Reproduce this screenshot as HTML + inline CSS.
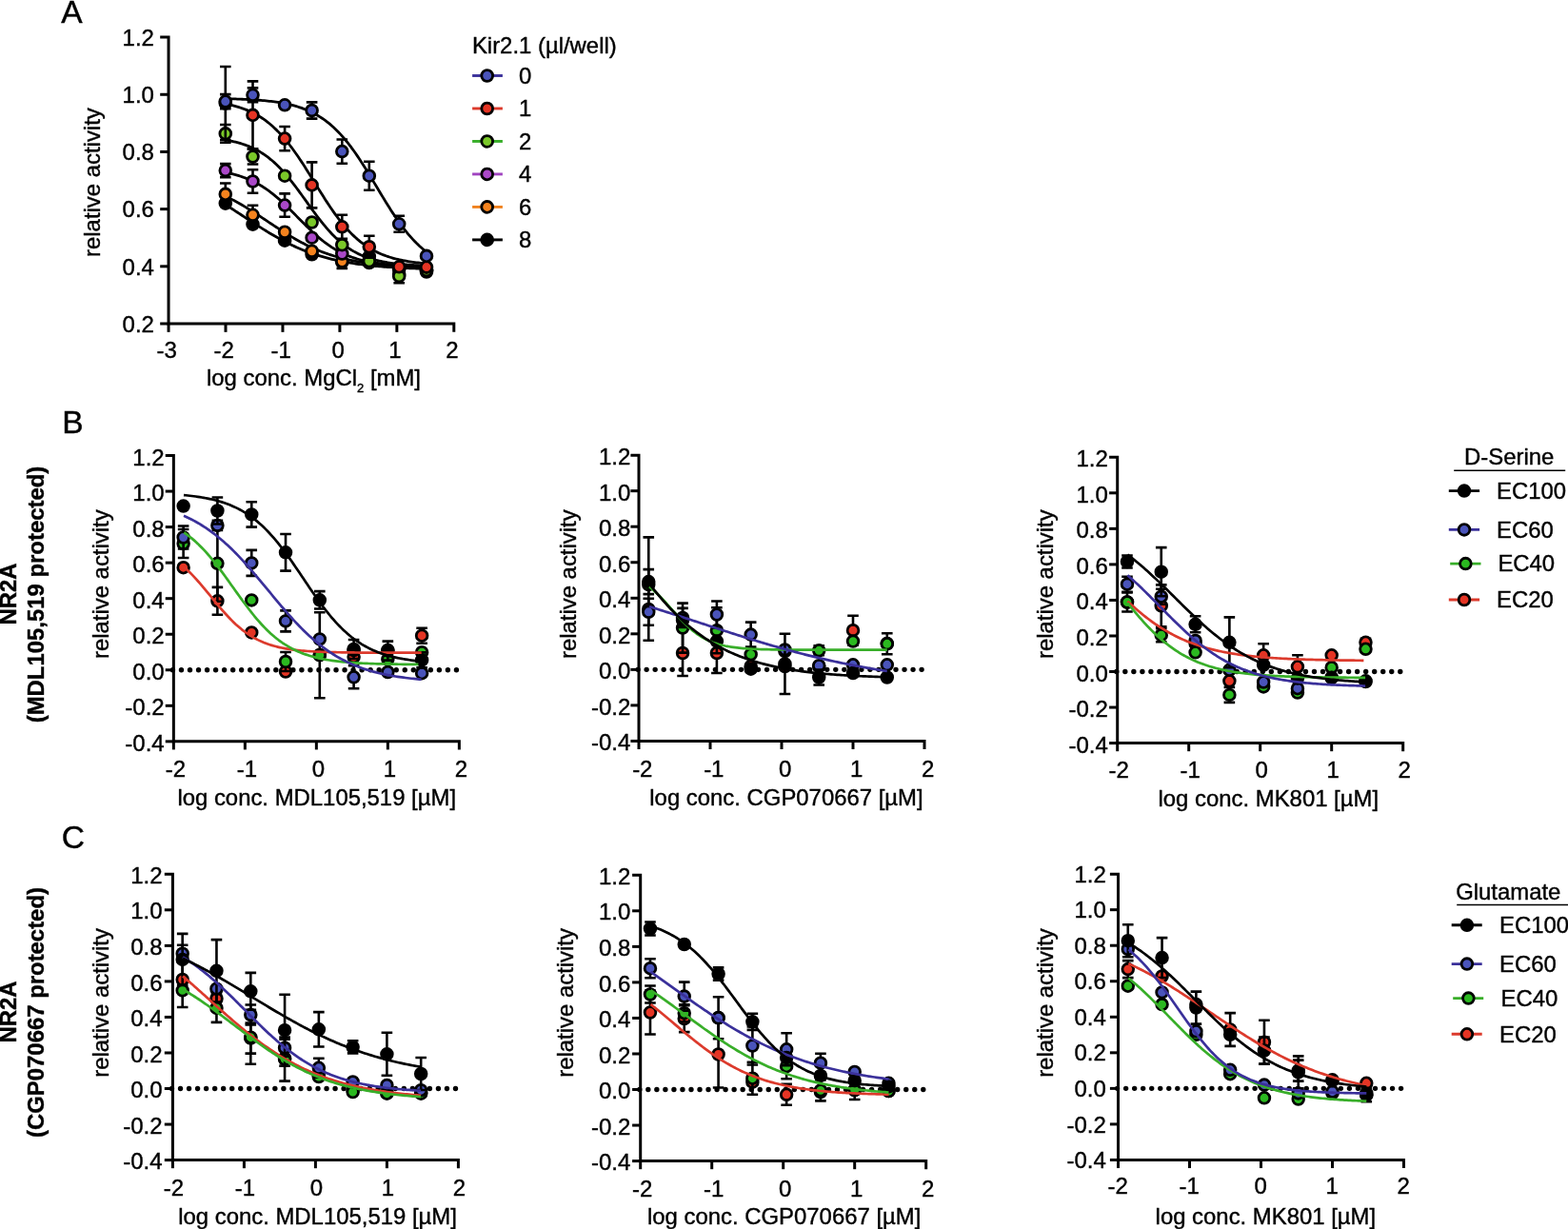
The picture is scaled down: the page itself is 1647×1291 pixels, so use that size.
<!DOCTYPE html>
<html><head><meta charset="utf-8"><title>Figure</title>
<style>
html,body{margin:0;padding:0;background:#fff;}
svg{display:block;}
text{font-family:"Liberation Sans", Arial, Helvetica, sans-serif;fill:#000;stroke:#000;stroke-width:0.4px;}
</style></head>
<body>
<svg width="1647" height="1291" viewBox="0 0 1647 1291">
<rect width="1647" height="1291" fill="#fff"/>
<text x="64.2" y="24" font-size="33.5" text-anchor="start">A</text>
<path d="M168.2,39.1 H177.05 V340 H476.8 V348.85" fill="none" stroke="#000" stroke-width="3.0" stroke-linejoin="miter"/>
<line x1="168.2" y1="340" x2="177.05" y2="340" stroke="#000" stroke-width="3.0" stroke-linecap="butt"/>
<text x="161.95" y="348.7" font-size="24.0" text-anchor="end">0.2</text>
<line x1="168.2" y1="279.82" x2="177.05" y2="279.82" stroke="#000" stroke-width="3.0" stroke-linecap="butt"/>
<text x="161.95" y="288.52" font-size="24.0" text-anchor="end">0.4</text>
<line x1="168.2" y1="219.64" x2="177.05" y2="219.64" stroke="#000" stroke-width="3.0" stroke-linecap="butt"/>
<text x="161.95" y="228.34" font-size="24.0" text-anchor="end">0.6</text>
<line x1="168.2" y1="159.46" x2="177.05" y2="159.46" stroke="#000" stroke-width="3.0" stroke-linecap="butt"/>
<text x="161.95" y="168.16" font-size="24.0" text-anchor="end">0.8</text>
<line x1="168.2" y1="99.28" x2="177.05" y2="99.28" stroke="#000" stroke-width="3.0" stroke-linecap="butt"/>
<text x="161.95" y="107.98" font-size="24.0" text-anchor="end">1.0</text>
<text x="161.95" y="47.8" font-size="24.0" text-anchor="end">1.2</text>
<line x1="177.05" y1="340" x2="177.05" y2="348.85" stroke="#000" stroke-width="3.0" stroke-linecap="butt"/>
<text x="175.25" y="376" font-size="24.0" text-anchor="middle">-3</text>
<line x1="237" y1="340" x2="237" y2="348.85" stroke="#000" stroke-width="3.0" stroke-linecap="butt"/>
<text x="235.2" y="376" font-size="24.0" text-anchor="middle">-2</text>
<line x1="296.95" y1="340" x2="296.95" y2="348.85" stroke="#000" stroke-width="3.0" stroke-linecap="butt"/>
<text x="295.15" y="376" font-size="24.0" text-anchor="middle">-1</text>
<line x1="356.9" y1="340" x2="356.9" y2="348.85" stroke="#000" stroke-width="3.0" stroke-linecap="butt"/>
<text x="355.1" y="376" font-size="24.0" text-anchor="middle">0</text>
<line x1="416.85" y1="340" x2="416.85" y2="348.85" stroke="#000" stroke-width="3.0" stroke-linecap="butt"/>
<text x="415.05" y="376" font-size="24.0" text-anchor="middle">1</text>
<text x="475" y="376" font-size="24.0" text-anchor="middle">2</text>
<text x="105.1" y="191.6" font-size="23.9" text-anchor="middle" transform="rotate(-90 105.1 191.6)">relative activity</text>
<text x="217" y="404.5" font-size="23.9" text-anchor="start">log conc. MgCl<tspan font-size="13" dy="7.5">2</tspan><tspan dy="-7.5"> [mM]</tspan></text>
<polyline points="236.80,215.01 238.57,216.12 240.35,217.24 242.12,218.37 243.90,219.51 245.67,220.65 247.45,221.81 249.22,222.96 251.00,224.13 252.77,225.29 254.55,226.46 256.32,227.63 258.10,228.80 259.87,229.97 261.65,231.14 263.42,232.31 265.20,233.47 266.97,234.63 268.75,235.78 270.52,236.93 272.30,238.06 274.07,239.19 275.85,240.31 277.62,241.42 279.39,242.52 281.17,243.61 282.94,244.68 284.72,245.74 286.49,246.79 288.27,247.82 290.04,248.83 291.82,249.83 293.59,250.82 295.37,251.78 297.14,252.73 298.92,253.66 300.69,254.58 302.47,255.47 304.24,256.35 306.02,257.21 307.79,258.05 309.57,258.87 311.34,259.67 313.12,260.45 314.89,261.21 316.67,261.96 318.44,262.68 320.22,263.39 321.99,264.08 323.76,264.75 325.54,265.40 327.31,266.03 329.09,266.64 330.86,267.24 332.64,267.82 334.41,268.38 336.19,268.92 337.96,269.45 339.74,269.96 341.51,270.45 343.29,270.93 345.06,271.40 346.84,271.85 348.61,272.28 350.39,272.70 352.16,273.11 353.94,273.50 355.71,273.88 357.49,274.24 359.26,274.59 361.04,274.93 362.81,275.26 364.58,275.58 366.36,275.88 368.13,276.18 369.91,276.46 371.68,276.74 373.46,277.00 375.23,277.25 377.01,277.50 378.78,277.73 380.56,277.96 382.33,278.18 384.11,278.39 385.88,278.59 387.66,278.78 389.43,278.97 391.21,279.15 392.98,279.32 394.76,279.49 396.53,279.65 398.31,279.80 400.08,279.95 401.86,280.09 403.63,280.23 405.41,280.36 407.18,280.49 408.95,280.61 410.73,280.72 412.50,280.84 414.28,280.94 416.05,281.05 417.83,281.15 419.60,281.24 421.38,281.33 423.15,281.42 424.93,281.50 426.70,281.58 428.48,281.66 430.25,281.74 432.03,281.81 433.80,281.88 435.58,281.94 437.35,282.01 439.13,282.07 440.90,282.12 442.68,282.18 444.45,282.23 446.23,282.28 448.00,282.33" fill="none" stroke="#000" stroke-width="2.8" stroke-linejoin="round"/>
<polyline points="236.80,206.08 238.57,206.93 240.35,207.81 242.12,208.70 243.90,209.62 245.67,210.56 247.45,211.51 249.22,212.49 251.00,213.49 252.77,214.50 254.55,215.54 256.32,216.59 258.10,217.66 259.87,218.74 261.65,219.84 263.42,220.96 265.20,222.08 266.97,223.22 268.75,224.37 270.52,225.53 272.30,226.70 274.07,227.87 275.85,229.05 277.62,230.23 279.39,231.41 281.17,232.60 282.94,233.79 284.72,234.97 286.49,236.16 288.27,237.33 290.04,238.51 291.82,239.67 293.59,240.83 295.37,241.98 297.14,243.12 298.92,244.24 300.69,245.36 302.47,246.46 304.24,247.54 306.02,248.61 307.79,249.66 309.57,250.70 311.34,251.71 313.12,252.71 314.89,253.69 316.67,254.64 318.44,255.58 320.22,256.50 321.99,257.39 323.76,258.26 325.54,259.11 327.31,259.94 329.09,260.75 330.86,261.53 332.64,262.30 334.41,263.04 336.19,263.76 337.96,264.45 339.74,265.13 341.51,265.78 343.29,266.41 345.06,267.03 346.84,267.62 348.61,268.19 350.39,268.74 352.16,269.27 353.94,269.79 355.71,270.28 357.49,270.76 359.26,271.22 361.04,271.66 362.81,272.09 364.58,272.50 366.36,272.89 368.13,273.27 369.91,273.63 371.68,273.98 373.46,274.31 375.23,274.64 377.01,274.94 378.78,275.24 380.56,275.52 382.33,275.80 384.11,276.06 385.88,276.31 387.66,276.54 389.43,276.77 391.21,276.99 392.98,277.20 394.76,277.40 396.53,277.59 398.31,277.78 400.08,277.95 401.86,278.12 403.63,278.28 405.41,278.44 407.18,278.58 408.95,278.72 410.73,278.86 412.50,278.98 414.28,279.11 416.05,279.22 417.83,279.33 419.60,279.44 421.38,279.54 423.15,279.64 424.93,279.73 426.70,279.82 428.48,279.91 430.25,279.99 432.03,280.06 433.80,280.14 435.58,280.21 437.35,280.27 439.13,280.34 440.90,280.40 442.68,280.46 444.45,280.51 446.23,280.56 448.00,280.61" fill="none" stroke="#000" stroke-width="2.8" stroke-linejoin="round"/>
<polyline points="236.80,181.19 238.57,181.54 240.35,181.91 242.12,182.30 243.90,182.72 245.67,183.16 247.45,183.63 249.22,184.14 251.00,184.67 252.77,185.23 254.55,185.82 256.32,186.45 258.10,187.12 259.87,187.82 261.65,188.57 263.42,189.35 265.20,190.18 266.97,191.04 268.75,191.95 270.52,192.91 272.30,193.91 274.07,194.96 275.85,196.06 277.62,197.21 279.39,198.40 281.17,199.64 282.94,200.93 284.72,202.27 286.49,203.66 288.27,205.09 290.04,206.56 291.82,208.08 293.59,209.64 295.37,211.24 297.14,212.88 298.92,214.55 300.69,216.25 302.47,217.97 304.24,219.73 306.02,221.50 307.79,223.28 309.57,225.08 311.34,226.89 313.12,228.70 314.89,230.50 316.67,232.31 318.44,234.10 320.22,235.88 321.99,237.64 323.76,239.37 325.54,241.09 327.31,242.77 329.09,244.42 330.86,246.03 332.64,247.61 334.41,249.15 336.19,250.64 337.96,252.09 339.74,253.49 341.51,254.85 343.29,256.16 345.06,257.42 346.84,258.64 348.61,259.80 350.39,260.92 352.16,261.99 353.94,263.01 355.71,263.99 357.49,264.92 359.26,265.80 361.04,266.65 362.81,267.45 364.58,268.21 366.36,268.93 368.13,269.61 369.91,270.25 371.68,270.86 373.46,271.44 375.23,271.98 377.01,272.50 378.78,272.98 380.56,273.43 382.33,273.86 384.11,274.27 385.88,274.65 387.66,275.00 389.43,275.34 391.21,275.65 392.98,275.95 394.76,276.22 396.53,276.48 398.31,276.73 400.08,276.96 401.86,277.17 403.63,277.37 405.41,277.56 407.18,277.73 408.95,277.90 410.73,278.05 412.50,278.19 414.28,278.33 416.05,278.45 417.83,278.57 419.60,278.68 421.38,278.79 423.15,278.88 424.93,278.97 426.70,279.06 428.48,279.13 430.25,279.21 432.03,279.28 433.80,279.34 435.58,279.40 437.35,279.46 439.13,279.51 440.90,279.56 442.68,279.60 444.45,279.64 446.23,279.68 448.00,279.72" fill="none" stroke="#000" stroke-width="2.8" stroke-linejoin="round"/>
<polyline points="236.80,147.06 238.57,147.36 240.35,147.69 242.12,148.04 243.90,148.41 245.67,148.81 247.45,149.23 249.22,149.68 251.00,150.17 252.77,150.68 254.55,151.23 256.32,151.82 258.10,152.44 259.87,153.11 261.65,153.82 263.42,154.57 265.20,155.36 266.97,156.21 268.75,157.11 270.52,158.06 272.30,159.06 274.07,160.12 275.85,161.24 277.62,162.42 279.39,163.67 281.17,164.98 282.94,166.35 284.72,167.79 286.49,169.30 288.27,170.88 290.04,172.53 291.82,174.24 293.59,176.02 295.37,177.88 297.14,179.79 298.92,181.78 300.69,183.82 302.47,185.93 304.24,188.10 306.02,190.31 307.79,192.58 309.57,194.89 311.34,197.25 313.12,199.64 314.89,202.06 316.67,204.50 318.44,206.96 320.22,209.43 321.99,211.91 323.76,214.38 325.54,216.85 327.31,219.31 329.09,221.74 330.86,224.15 332.64,226.52 334.41,228.86 336.19,231.15 337.96,233.40 339.74,235.59 341.51,237.73 343.29,239.81 345.06,241.83 346.84,243.78 348.61,245.67 350.39,247.49 352.16,249.25 353.94,250.93 355.71,252.55 357.49,254.09 359.26,255.57 361.04,256.98 362.81,258.33 364.58,259.61 366.36,260.82 368.13,261.98 369.91,263.07 371.68,264.11 373.46,265.09 375.23,266.01 377.01,266.89 378.78,267.71 380.56,268.49 382.33,269.22 384.11,269.90 385.88,270.55 387.66,271.16 389.43,271.73 391.21,272.26 392.98,272.76 394.76,273.23 396.53,273.67 398.31,274.09 400.08,274.47 401.86,274.83 403.63,275.17 405.41,275.48 407.18,275.78 408.95,276.05 410.73,276.31 412.50,276.55 414.28,276.78 416.05,276.98 417.83,277.18 419.60,277.36 421.38,277.53 423.15,277.69 424.93,277.84 426.70,277.98 428.48,278.10 430.25,278.22 432.03,278.33 433.80,278.44 435.58,278.53 437.35,278.62 439.13,278.71 440.90,278.79 442.68,278.86 444.45,278.93 446.23,278.99 448.00,279.05" fill="none" stroke="#000" stroke-width="2.8" stroke-linejoin="round"/>
<polyline points="236.80,109.12 238.57,109.48 240.35,109.85 242.12,110.25 243.90,110.67 245.67,111.12 247.45,111.60 249.22,112.11 251.00,112.65 252.77,113.22 254.55,113.82 256.32,114.47 258.10,115.15 259.87,115.87 261.65,116.63 263.42,117.43 265.20,118.28 266.97,119.18 268.75,120.13 270.52,121.13 272.30,122.19 274.07,123.30 275.85,124.46 277.62,125.69 279.39,126.98 281.17,128.34 282.94,129.76 284.72,131.24 286.49,132.80 288.27,134.42 290.04,136.12 291.82,137.88 293.59,139.72 295.37,141.63 297.14,143.62 298.92,145.67 300.69,147.80 302.47,150.00 304.24,152.26 306.02,154.60 307.79,157.00 309.57,159.46 311.34,161.98 313.12,164.56 314.89,167.19 316.67,169.86 318.44,172.59 320.22,175.35 321.99,178.14 323.76,180.96 325.54,183.80 327.31,186.66 329.09,189.53 330.86,192.40 332.64,195.27 334.41,198.14 336.19,200.98 337.96,203.81 339.74,206.61 341.51,209.38 343.29,212.12 345.06,214.81 346.84,217.45 348.61,220.05 350.39,222.59 352.16,225.07 353.94,227.48 355.71,229.84 357.49,232.12 359.26,234.34 361.04,236.49 362.81,238.57 364.58,240.58 366.36,242.51 368.13,244.37 369.91,246.16 371.68,247.87 373.46,249.52 375.23,251.10 377.01,252.60 378.78,254.04 380.56,255.42 382.33,256.72 384.11,257.97 385.88,259.16 387.66,260.29 389.43,261.36 391.21,262.37 392.98,263.34 394.76,264.25 396.53,265.12 398.31,265.94 400.08,266.71 401.86,267.44 403.63,268.13 405.41,268.79 407.18,269.40 408.95,269.98 410.73,270.53 412.50,271.05 414.28,271.54 416.05,271.99 417.83,272.43 419.60,272.83 421.38,273.21 423.15,273.57 424.93,273.91 426.70,274.23 428.48,274.53 430.25,274.81 432.03,275.07 433.80,275.32 435.58,275.55 437.35,275.77 439.13,275.98 440.90,276.17 442.68,276.35 444.45,276.52 446.23,276.68 448.00,276.83" fill="none" stroke="#000" stroke-width="2.8" stroke-linejoin="round"/>
<polyline points="236.80,103.68 238.57,103.72 240.35,103.77 242.12,103.81 243.90,103.86 245.67,103.91 247.45,103.97 249.22,104.03 251.00,104.09 252.77,104.16 254.55,104.23 256.32,104.31 258.10,104.39 259.87,104.48 261.65,104.57 263.42,104.67 265.20,104.77 266.97,104.89 268.75,105.01 270.52,105.13 272.30,105.27 274.07,105.41 275.85,105.56 277.62,105.72 279.39,105.90 281.17,106.08 282.94,106.28 284.72,106.48 286.49,106.70 288.27,106.94 290.04,107.19 291.82,107.45 293.59,107.74 295.37,108.04 297.14,108.35 298.92,108.69 300.69,109.05 302.47,109.43 304.24,109.83 306.02,110.26 307.79,110.72 309.57,111.20 311.34,111.71 313.12,112.25 314.89,112.82 316.67,113.43 318.44,114.07 320.22,114.75 321.99,115.46 323.76,116.22 325.54,117.02 327.31,117.87 329.09,118.76 330.86,119.70 332.64,120.69 334.41,121.73 336.19,122.83 337.96,123.98 339.74,125.20 341.51,126.47 343.29,127.80 345.06,129.20 346.84,130.66 348.61,132.20 350.39,133.80 352.16,135.46 353.94,137.20 355.71,139.02 357.49,140.90 359.26,142.86 361.04,144.89 362.81,146.99 364.58,149.16 366.36,151.40 368.13,153.72 369.91,156.10 371.68,158.55 373.46,161.06 375.23,163.63 377.01,166.26 378.78,168.95 380.56,171.68 382.33,174.47 384.11,177.29 385.88,180.15 387.66,183.04 389.43,185.96 391.21,188.90 392.98,191.85 394.76,194.81 396.53,197.78 398.31,200.74 400.08,203.69 401.86,206.63 403.63,209.54 405.41,212.43 407.18,215.29 408.95,218.11 410.73,220.89 412.50,223.62 414.28,226.30 416.05,228.92 417.83,231.49 419.60,234.00 421.38,236.44 423.15,238.82 424.93,241.12 426.70,243.36 428.48,245.53 430.25,247.63 432.03,249.65 433.80,251.60 435.58,253.48 437.35,255.28 439.13,257.01 440.90,258.68 442.68,260.27 444.45,261.80 446.23,263.26 448.00,264.65" fill="none" stroke="#000" stroke-width="2.8" stroke-linejoin="round"/>
<path d="M387.8,261.5 V277.5 M382,261.5 H393.6 M382,277.5 H393.6" stroke="#000" stroke-width="2.6" fill="none"/>
<circle cx="236.8" cy="213.6" r="5.9" fill="#000000" stroke="#000" stroke-width="2.8"/>
<circle cx="265.5" cy="235.6" r="5.9" fill="#000000" stroke="#000" stroke-width="2.8"/>
<circle cx="299.1" cy="252.7" r="5.9" fill="#000000" stroke="#000" stroke-width="2.8"/>
<circle cx="327.6" cy="267.3" r="5.9" fill="#000000" stroke="#000" stroke-width="2.8"/>
<circle cx="359.3" cy="275.4" r="5.9" fill="#000000" stroke="#000" stroke-width="2.8"/>
<circle cx="387.8" cy="269.5" r="5.9" fill="#000000" stroke="#000" stroke-width="2.8"/>
<circle cx="419.2" cy="288" r="5.9" fill="#000000" stroke="#000" stroke-width="2.8"/>
<circle cx="448" cy="285.5" r="5.9" fill="#000000" stroke="#000" stroke-width="2.8"/>
<path d="M236.8,192.5 V215.3 M231,192.5 H242.6 M231,215.3 H242.6" stroke="#000" stroke-width="2.6" fill="none"/>
<path d="M265.5,215.8 V235.8 M259.7,215.8 H271.3 M259.7,235.8 H271.3" stroke="#000" stroke-width="2.6" fill="none"/>
<path d="M359.3,267.3 V281.9 M353.5,267.3 H365.1 M353.5,281.9 H365.1" stroke="#000" stroke-width="2.6" fill="none"/>
<circle cx="236.8" cy="203.9" r="5.9" fill="#f5831e" stroke="#000" stroke-width="2.8"/>
<circle cx="265.5" cy="225.8" r="5.9" fill="#f5831e" stroke="#000" stroke-width="2.8"/>
<circle cx="299.1" cy="243.7" r="5.9" fill="#f5831e" stroke="#000" stroke-width="2.8"/>
<circle cx="327.6" cy="263.7" r="5.9" fill="#f5831e" stroke="#000" stroke-width="2.8"/>
<circle cx="359.3" cy="274.6" r="5.9" fill="#f5831e" stroke="#000" stroke-width="2.8"/>
<circle cx="387.8" cy="276" r="5.9" fill="#f5831e" stroke="#000" stroke-width="2.8"/>
<circle cx="419.2" cy="283" r="5.9" fill="#f5831e" stroke="#000" stroke-width="2.8"/>
<circle cx="448" cy="284" r="5.9" fill="#f5831e" stroke="#000" stroke-width="2.8"/>
<path d="M236.8,172.1 V186.1 M231,172.1 H242.6 M231,186.1 H242.6" stroke="#000" stroke-width="2.6" fill="none"/>
<path d="M265.5,178.3 V202.7 M259.7,178.3 H271.3 M259.7,202.7 H271.3" stroke="#000" stroke-width="2.6" fill="none"/>
<path d="M299.1,203.4 V227.8 M293.3,203.4 H304.9 M293.3,227.8 H304.9" stroke="#000" stroke-width="2.6" fill="none"/>
<circle cx="236.8" cy="179.1" r="5.9" fill="#aa48c8" stroke="#000" stroke-width="2.8"/>
<circle cx="265.5" cy="190.5" r="5.9" fill="#aa48c8" stroke="#000" stroke-width="2.8"/>
<circle cx="299.1" cy="215.6" r="5.9" fill="#aa48c8" stroke="#000" stroke-width="2.8"/>
<circle cx="327.6" cy="249.7" r="5.9" fill="#aa48c8" stroke="#000" stroke-width="2.8"/>
<circle cx="359.3" cy="266.5" r="5.9" fill="#aa48c8" stroke="#000" stroke-width="2.8"/>
<circle cx="387.8" cy="274.5" r="5.9" fill="#aa48c8" stroke="#000" stroke-width="2.8"/>
<circle cx="419.2" cy="281.5" r="5.9" fill="#aa48c8" stroke="#000" stroke-width="2.8"/>
<circle cx="448" cy="283" r="5.9" fill="#aa48c8" stroke="#000" stroke-width="2.8"/>
<path d="M236.8,131 V149.8 M231,131 H242.6 M231,149.8 H242.6" stroke="#000" stroke-width="2.6" fill="none"/>
<path d="M265.5,156.5 V172.5 M259.7,156.5 H271.3 M259.7,172.5 H271.3" stroke="#000" stroke-width="2.6" fill="none"/>
<path d="M419.2,282.7 V297.3 M413.4,282.7 H425 M413.4,297.3 H425" stroke="#000" stroke-width="2.6" fill="none"/>
<circle cx="236.8" cy="140.4" r="5.9" fill="#7ac829" stroke="#000" stroke-width="2.8"/>
<circle cx="265.5" cy="164.5" r="5.9" fill="#7ac829" stroke="#000" stroke-width="2.8"/>
<circle cx="299.1" cy="184.7" r="5.9" fill="#7ac829" stroke="#000" stroke-width="2.8"/>
<circle cx="327.6" cy="233.5" r="5.9" fill="#7ac829" stroke="#000" stroke-width="2.8"/>
<circle cx="359.3" cy="257.2" r="5.9" fill="#7ac829" stroke="#000" stroke-width="2.8"/>
<circle cx="387.8" cy="274.3" r="5.9" fill="#7ac829" stroke="#000" stroke-width="2.8"/>
<circle cx="419.2" cy="290" r="5.9" fill="#7ac829" stroke="#000" stroke-width="2.8"/>
<circle cx="448" cy="284" r="5.9" fill="#7ac829" stroke="#000" stroke-width="2.8"/>
<path d="M236.8,70 V147 M231,70 H242.6 M231,147 H242.6" stroke="#000" stroke-width="2.6" fill="none"/>
<path d="M265.5,85.4 V156.4 M259.7,85.4 H271.3 M259.7,156.4 H271.3" stroke="#000" stroke-width="2.6" fill="none"/>
<path d="M299.1,133 V158.2 M293.3,133 H304.9 M293.3,158.2 H304.9" stroke="#000" stroke-width="2.6" fill="none"/>
<path d="M327.6,170.4 V218.4 M321.8,170.4 H333.4 M321.8,218.4 H333.4" stroke="#000" stroke-width="2.6" fill="none"/>
<path d="M359.3,225.8 V250.8 M353.5,225.8 H365.1 M353.5,250.8 H365.1" stroke="#000" stroke-width="2.6" fill="none"/>
<path d="M387.8,247.8 V270.6 M382,247.8 H393.6 M382,270.6 H393.6" stroke="#000" stroke-width="2.6" fill="none"/>
<circle cx="236.8" cy="108.5" r="5.9" fill="#e53424" stroke="#000" stroke-width="2.8"/>
<circle cx="265.5" cy="120.9" r="5.9" fill="#e53424" stroke="#000" stroke-width="2.8"/>
<circle cx="299.1" cy="145.6" r="5.9" fill="#e53424" stroke="#000" stroke-width="2.8"/>
<circle cx="327.6" cy="194.4" r="5.9" fill="#e53424" stroke="#000" stroke-width="2.8"/>
<circle cx="359.3" cy="238.3" r="5.9" fill="#e53424" stroke="#000" stroke-width="2.8"/>
<circle cx="387.8" cy="259.2" r="5.9" fill="#e53424" stroke="#000" stroke-width="2.8"/>
<circle cx="419.2" cy="280.3" r="5.9" fill="#e53424" stroke="#000" stroke-width="2.8"/>
<circle cx="448" cy="280.6" r="5.9" fill="#e53424" stroke="#000" stroke-width="2.8"/>
<path d="M236.8,99.1 V114.1 M231,99.1 H242.6 M231,114.1 H242.6" stroke="#000" stroke-width="2.6" fill="none"/>
<path d="M265.5,92.4 V107.2 M259.7,92.4 H271.3 M259.7,107.2 H271.3" stroke="#000" stroke-width="2.6" fill="none"/>
<path d="M327.6,107.4 V124.6 M321.8,107.4 H333.4 M321.8,124.6 H333.4" stroke="#000" stroke-width="2.6" fill="none"/>
<path d="M359.3,146.5 V171.7 M353.5,146.5 H365.1 M353.5,171.7 H365.1" stroke="#000" stroke-width="2.6" fill="none"/>
<path d="M387.8,169.7 V199.7 M382,169.7 H393.6 M382,199.7 H393.6" stroke="#000" stroke-width="2.6" fill="none"/>
<path d="M419.2,226.8 V243.8 M413.4,226.8 H425 M413.4,243.8 H425" stroke="#000" stroke-width="2.6" fill="none"/>
<circle cx="236.8" cy="106.6" r="5.9" fill="#4a54ba" stroke="#000" stroke-width="2.8"/>
<circle cx="265.5" cy="99.8" r="5.9" fill="#4a54ba" stroke="#000" stroke-width="2.8"/>
<circle cx="299.1" cy="110.3" r="5.9" fill="#4a54ba" stroke="#000" stroke-width="2.8"/>
<circle cx="327.6" cy="116" r="5.9" fill="#4a54ba" stroke="#000" stroke-width="2.8"/>
<circle cx="359.3" cy="159.1" r="5.9" fill="#4a54ba" stroke="#000" stroke-width="2.8"/>
<circle cx="387.8" cy="184.7" r="5.9" fill="#4a54ba" stroke="#000" stroke-width="2.8"/>
<circle cx="419.2" cy="235.3" r="5.9" fill="#4a54ba" stroke="#000" stroke-width="2.8"/>
<circle cx="448" cy="268.9" r="5.9" fill="#4a54ba" stroke="#000" stroke-width="2.8"/>
<text x="495.9" y="55.8" font-size="23.9" text-anchor="start">Kir2.1 (µl/well)</text>
<line x1="496.1" y1="79.5" x2="527.9" y2="79.5" stroke="#3a309a" stroke-width="2.9" stroke-linecap="butt"/>
<circle cx="511.7" cy="79.5" r="5.9" fill="#4a54ba" stroke="#000" stroke-width="2.8"/>
<text x="545" y="87.8" font-size="23.9" text-anchor="start">0</text>
<line x1="496.1" y1="113.98" x2="527.9" y2="113.98" stroke="#dc3a2c" stroke-width="2.9" stroke-linecap="butt"/>
<circle cx="511.7" cy="113.98" r="5.9" fill="#e53424" stroke="#000" stroke-width="2.8"/>
<text x="545" y="122.28" font-size="23.9" text-anchor="start">1</text>
<line x1="496.1" y1="148.46" x2="527.9" y2="148.46" stroke="#38ae29" stroke-width="2.9" stroke-linecap="butt"/>
<circle cx="511.7" cy="148.46" r="5.9" fill="#7ac829" stroke="#000" stroke-width="2.8"/>
<text x="545" y="156.76" font-size="23.9" text-anchor="start">2</text>
<line x1="496.1" y1="182.94" x2="527.9" y2="182.94" stroke="#a043c0" stroke-width="2.9" stroke-linecap="butt"/>
<circle cx="511.7" cy="182.94" r="5.9" fill="#aa48c8" stroke="#000" stroke-width="2.8"/>
<text x="545" y="191.24" font-size="23.9" text-anchor="start">4</text>
<line x1="496.1" y1="217.42" x2="527.9" y2="217.42" stroke="#f0821e" stroke-width="2.9" stroke-linecap="butt"/>
<circle cx="511.7" cy="217.42" r="5.9" fill="#f5831e" stroke="#000" stroke-width="2.8"/>
<text x="545" y="225.72" font-size="23.9" text-anchor="start">6</text>
<line x1="496.1" y1="251.9" x2="527.9" y2="251.9" stroke="#000000" stroke-width="2.9" stroke-linecap="butt"/>
<circle cx="511.7" cy="251.9" r="5.9" fill="#000000" stroke="#000" stroke-width="2.8"/>
<text x="545" y="260.2" font-size="23.9" text-anchor="start">8</text>
<text x="65.3" y="454.5" font-size="33.5" text-anchor="start">B</text>
<text x="17" y="624" font-size="23.9" text-anchor="middle" font-weight="bold" transform="rotate(-90 17 624)">NR2A</text>
<text x="46" y="624.5" font-size="23.9" text-anchor="middle" font-weight="bold" transform="rotate(-90 46 624.5)">(MDL105,519 protected)</text>
<path d="M173.75,478.53 H182.35 V778.85 H482.35 V787.45" fill="none" stroke="#000" stroke-width="3.0" stroke-linejoin="miter"/>
<line x1="173.75" y1="778.85" x2="182.35" y2="778.85" stroke="#000" stroke-width="3.0" stroke-linecap="butt"/>
<text x="172.7" y="788.85" font-size="24.0" text-anchor="end">-0.4</text>
<line x1="173.75" y1="741.31" x2="182.35" y2="741.31" stroke="#000" stroke-width="3.0" stroke-linecap="butt"/>
<text x="172.7" y="751.31" font-size="24.0" text-anchor="end">-0.2</text>
<line x1="173.75" y1="703.77" x2="182.35" y2="703.77" stroke="#000" stroke-width="3.0" stroke-linecap="butt"/>
<text x="172.7" y="713.77" font-size="24.0" text-anchor="end">0.0</text>
<line x1="173.75" y1="666.23" x2="182.35" y2="666.23" stroke="#000" stroke-width="3.0" stroke-linecap="butt"/>
<text x="172.7" y="676.23" font-size="24.0" text-anchor="end">0.2</text>
<line x1="173.75" y1="628.69" x2="182.35" y2="628.69" stroke="#000" stroke-width="3.0" stroke-linecap="butt"/>
<text x="172.7" y="638.69" font-size="24.0" text-anchor="end">0.4</text>
<line x1="173.75" y1="591.15" x2="182.35" y2="591.15" stroke="#000" stroke-width="3.0" stroke-linecap="butt"/>
<text x="172.7" y="601.15" font-size="24.0" text-anchor="end">0.6</text>
<line x1="173.75" y1="553.61" x2="182.35" y2="553.61" stroke="#000" stroke-width="3.0" stroke-linecap="butt"/>
<text x="172.7" y="563.61" font-size="24.0" text-anchor="end">0.8</text>
<line x1="173.75" y1="516.07" x2="182.35" y2="516.07" stroke="#000" stroke-width="3.0" stroke-linecap="butt"/>
<text x="172.7" y="526.07" font-size="24.0" text-anchor="end">1.0</text>
<text x="172.7" y="488.53" font-size="24.0" text-anchor="end">1.2</text>
<line x1="182.35" y1="778.85" x2="182.35" y2="787.45" stroke="#000" stroke-width="3.0" stroke-linecap="butt"/>
<text x="184.35" y="815.75" font-size="24.0" text-anchor="middle">-2</text>
<line x1="257.35" y1="778.85" x2="257.35" y2="787.45" stroke="#000" stroke-width="3.0" stroke-linecap="butt"/>
<text x="259.35" y="815.75" font-size="24.0" text-anchor="middle">-1</text>
<line x1="332.35" y1="778.85" x2="332.35" y2="787.45" stroke="#000" stroke-width="3.0" stroke-linecap="butt"/>
<text x="334.35" y="815.75" font-size="24.0" text-anchor="middle">0</text>
<line x1="407.35" y1="778.85" x2="407.35" y2="787.45" stroke="#000" stroke-width="3.0" stroke-linecap="butt"/>
<text x="409.35" y="815.75" font-size="24.0" text-anchor="middle">1</text>
<text x="484.35" y="815.75" font-size="24.0" text-anchor="middle">2</text>
<text x="114.2" y="613.7" font-size="23.9" text-anchor="middle" transform="rotate(-90 114.2 613.7)">relative activity</text>
<text x="186.4" y="846.1" font-size="23.9" text-anchor="start">log conc. MDL105,519 [µM]</text>
<line x1="181.45" y1="703.77" x2="483.35" y2="703.77" stroke="#000" stroke-width="5.4" stroke-linecap="round" stroke-dasharray="0 9.03"/>
<path d="M228.4,616.9 V645.7 M222.6,616.9 H234.2 M222.6,645.7 H234.2" stroke="#000" stroke-width="2.6" fill="none"/>
<path d="M443.12,659.7 V675.7 M437.32,659.7 H448.93 M437.32,675.7 H448.93" stroke="#000" stroke-width="2.6" fill="none"/>
<circle cx="192.62" cy="596.2" r="5.85" fill="#e53424" stroke="#000" stroke-width="2.8"/>
<circle cx="228.4" cy="631.3" r="5.85" fill="#e53424" stroke="#000" stroke-width="2.8"/>
<circle cx="264.25" cy="664.4" r="5.85" fill="#e53424" stroke="#000" stroke-width="2.8"/>
<circle cx="300.02" cy="705.6" r="5.85" fill="#e53424" stroke="#000" stroke-width="2.8"/>
<circle cx="335.8" cy="688" r="5.85" fill="#e53424" stroke="#000" stroke-width="2.8"/>
<circle cx="371.58" cy="690.1" r="5.85" fill="#e53424" stroke="#000" stroke-width="2.8"/>
<circle cx="407.35" cy="683" r="5.85" fill="#e53424" stroke="#000" stroke-width="2.8"/>
<circle cx="443.12" cy="667.7" r="5.85" fill="#e53424" stroke="#000" stroke-width="2.8"/>
<path d="M192.62,556 V586 M186.82,556 H198.43 M186.82,586 H198.43" stroke="#000" stroke-width="2.6" fill="none"/>
<path d="M228.4,551.8 V631.8 M222.6,551.8 H234.2 M222.6,631.8 H234.2" stroke="#000" stroke-width="2.6" fill="none"/>
<path d="M300.02,685 V705 M294.22,685 H305.82 M294.22,705 H305.82" stroke="#000" stroke-width="2.6" fill="none"/>
<path d="M335.8,643.2 V733.2 M330,643.2 H341.6 M330,733.2 H341.6" stroke="#000" stroke-width="2.6" fill="none"/>
<circle cx="192.62" cy="571" r="5.85" fill="#2bb920" stroke="#000" stroke-width="2.8"/>
<circle cx="228.4" cy="591.8" r="5.85" fill="#2bb920" stroke="#000" stroke-width="2.8"/>
<circle cx="264.25" cy="630.4" r="5.85" fill="#2bb920" stroke="#000" stroke-width="2.8"/>
<circle cx="300.02" cy="695" r="5.85" fill="#2bb920" stroke="#000" stroke-width="2.8"/>
<circle cx="335.8" cy="688.2" r="5.85" fill="#2bb920" stroke="#000" stroke-width="2.8"/>
<circle cx="371.58" cy="683" r="5.85" fill="#2bb920" stroke="#000" stroke-width="2.8"/>
<circle cx="407.35" cy="692.6" r="5.85" fill="#2bb920" stroke="#000" stroke-width="2.8"/>
<circle cx="443.12" cy="685.2" r="5.85" fill="#2bb920" stroke="#000" stroke-width="2.8"/>
<path d="M192.62,552.5 V576.5 M186.82,552.5 H198.43 M186.82,576.5 H198.43" stroke="#000" stroke-width="2.6" fill="none"/>
<path d="M228.4,546.9 V556.9 M222.6,546.9 H234.2 M222.6,556.9 H234.2" stroke="#000" stroke-width="2.6" fill="none"/>
<path d="M264.25,577.9 V604.9 M258.45,577.9 H270.05 M258.45,604.9 H270.05" stroke="#000" stroke-width="2.6" fill="none"/>
<path d="M300.02,641.4 V663.4 M294.22,641.4 H305.82 M294.22,663.4 H305.82" stroke="#000" stroke-width="2.6" fill="none"/>
<path d="M371.58,699.3 V723.3 M365.78,699.3 H377.38 M365.78,723.3 H377.38" stroke="#000" stroke-width="2.6" fill="none"/>
<circle cx="192.62" cy="564.5" r="5.85" fill="#4a54ba" stroke="#000" stroke-width="2.8"/>
<circle cx="228.4" cy="551.9" r="5.85" fill="#4a54ba" stroke="#000" stroke-width="2.8"/>
<circle cx="264.25" cy="591.4" r="5.85" fill="#4a54ba" stroke="#000" stroke-width="2.8"/>
<circle cx="300.02" cy="652.4" r="5.85" fill="#4a54ba" stroke="#000" stroke-width="2.8"/>
<circle cx="335.8" cy="671.4" r="5.85" fill="#4a54ba" stroke="#000" stroke-width="2.8"/>
<circle cx="371.58" cy="711.3" r="5.85" fill="#4a54ba" stroke="#000" stroke-width="2.8"/>
<circle cx="407.35" cy="706" r="5.85" fill="#4a54ba" stroke="#000" stroke-width="2.8"/>
<circle cx="443.12" cy="707.2" r="5.85" fill="#4a54ba" stroke="#000" stroke-width="2.8"/>
<path d="M228.4,522.5 V550.5 M222.6,522.5 H234.2 M222.6,550.5 H234.2" stroke="#000" stroke-width="2.6" fill="none"/>
<path d="M264.25,527.2 V553.6 M258.45,527.2 H270.05 M258.45,553.6 H270.05" stroke="#000" stroke-width="2.6" fill="none"/>
<path d="M300.02,561 V599.6 M294.22,561 H305.82 M294.22,599.6 H305.82" stroke="#000" stroke-width="2.6" fill="none"/>
<path d="M335.8,621.1 V639.5 M330,621.1 H341.6 M330,639.5 H341.6" stroke="#000" stroke-width="2.6" fill="none"/>
<path d="M371.58,672 V692 M365.78,672 H377.38 M365.78,692 H377.38" stroke="#000" stroke-width="2.6" fill="none"/>
<path d="M407.35,673.6 V693.6 M401.55,673.6 H413.15 M401.55,693.6 H413.15" stroke="#000" stroke-width="2.6" fill="none"/>
<path d="M443.12,685.4 V701.4 M437.32,685.4 H448.93 M437.32,701.4 H448.93" stroke="#000" stroke-width="2.6" fill="none"/>
<circle cx="192.62" cy="531.6" r="5.85" fill="#000000" stroke="#000" stroke-width="2.8"/>
<circle cx="228.4" cy="536.5" r="5.85" fill="#000000" stroke="#000" stroke-width="2.8"/>
<circle cx="264.25" cy="540.4" r="5.85" fill="#000000" stroke="#000" stroke-width="2.8"/>
<circle cx="300.02" cy="580.3" r="5.85" fill="#000000" stroke="#000" stroke-width="2.8"/>
<circle cx="335.8" cy="630.3" r="5.85" fill="#000000" stroke="#000" stroke-width="2.8"/>
<circle cx="371.58" cy="682" r="5.85" fill="#000000" stroke="#000" stroke-width="2.8"/>
<circle cx="407.35" cy="683.6" r="5.85" fill="#000000" stroke="#000" stroke-width="2.8"/>
<circle cx="443.12" cy="693.4" r="5.85" fill="#000000" stroke="#000" stroke-width="2.8"/>
<polyline points="193.30,595.59 195.40,597.49 197.49,599.46 199.59,601.52 201.68,603.66 203.78,605.87 205.87,608.14 207.97,610.48 210.07,612.88 212.16,615.32 214.26,617.81 216.35,620.33 218.45,622.87 220.55,625.43 222.64,627.99 224.74,630.54 226.83,633.08 228.93,635.60 231.02,638.08 233.12,640.53 235.22,642.92 237.31,645.26 239.41,647.53 241.50,649.74 243.60,651.87 245.69,653.92 247.79,655.90 249.89,657.79 251.98,659.59 254.08,661.32 256.17,662.95 258.27,664.50 260.37,665.97 262.46,667.35 264.56,668.66 266.65,669.89 268.75,671.04 270.84,672.12 272.94,673.12 275.04,674.07 277.13,674.95 279.23,675.76 281.32,676.53 283.42,677.23 285.52,677.89 287.61,678.50 289.71,679.07 291.80,679.59 293.90,680.07 295.99,680.52 298.09,680.94 300.19,681.32 302.28,681.67 304.38,681.99 306.47,682.29 308.57,682.57 310.66,682.82 312.76,683.06 314.86,683.27 316.95,683.47 319.05,683.66 321.14,683.82 323.24,683.98 325.34,684.12 327.43,684.25 329.53,684.37 331.62,684.48 333.72,684.58 335.81,684.67 337.91,684.76 340.01,684.84 342.10,684.91 344.20,684.98 346.29,685.04 348.39,685.09 350.48,685.14 352.58,685.19 354.68,685.23 356.77,685.27 358.87,685.31 360.96,685.34 363.06,685.37 365.16,685.40 367.25,685.43 369.35,685.45 371.44,685.47 373.54,685.49 375.63,685.51 377.73,685.53 379.83,685.54 381.92,685.55 384.02,685.57 386.11,685.58 388.21,685.59 390.31,685.60 392.40,685.61 394.50,685.62 396.59,685.63 398.69,685.63 400.78,685.64 402.88,685.64 404.98,685.65 407.07,685.65 409.17,685.66 411.26,685.66 413.36,685.67 415.45,685.67 417.55,685.67 419.65,685.68 421.74,685.68 423.84,685.68 425.93,685.68 428.03,685.69 430.13,685.69 432.22,685.69 434.32,685.69 436.41,685.69 438.51,685.69 440.60,685.70 442.70,685.70" fill="none" stroke="#dc3a2c" stroke-width="2.7" stroke-linejoin="round"/>
<polyline points="193.30,559.35 195.37,560.80 197.44,562.33 199.50,563.94 201.57,565.62 203.64,567.38 205.71,569.23 207.78,571.15 209.84,573.16 211.91,575.25 213.98,577.41 216.05,579.66 218.12,581.98 220.18,584.38 222.25,586.84 224.32,589.38 226.39,591.98 228.46,594.63 230.53,597.35 232.59,600.11 234.66,602.91 236.73,605.75 238.80,608.62 240.87,611.51 242.93,614.42 245.00,617.33 247.07,620.24 249.14,623.15 251.21,626.04 253.27,628.91 255.34,631.75 257.41,634.55 259.48,637.31 261.55,640.02 263.61,642.67 265.68,645.27 267.75,647.80 269.82,650.27 271.89,652.66 273.95,654.98 276.02,657.22 278.09,659.39 280.16,661.47 282.23,663.47 284.29,665.40 286.36,667.24 288.43,669.00 290.50,670.68 292.57,672.29 294.64,673.81 296.70,675.26 298.77,676.64 300.84,677.95 302.91,679.19 304.98,680.36 307.04,681.47 309.11,682.52 311.18,683.50 313.25,684.44 315.32,685.31 317.38,686.14 319.45,686.91 321.52,687.64 323.59,688.33 325.66,688.97 327.72,689.57 329.79,690.14 331.86,690.67 333.93,691.16 336.00,691.63 338.06,692.06 340.13,692.47 342.20,692.85 344.27,693.21 346.34,693.54 348.41,693.85 350.47,694.14 352.54,694.41 354.61,694.66 356.68,694.90 358.75,695.12 360.81,695.32 362.88,695.51 364.95,695.69 367.02,695.86 369.09,696.01 371.15,696.16 373.22,696.29 375.29,696.42 377.36,696.54 379.43,696.65 381.49,696.75 383.56,696.84 385.63,696.93 387.70,697.01 389.77,697.09 391.83,697.16 393.90,697.23 395.97,697.29 398.04,697.35 400.11,697.40 402.17,697.45 404.24,697.50 406.31,697.54 408.38,697.58 410.45,697.62 412.52,697.65 414.58,697.68 416.65,697.71 418.72,697.74 420.79,697.77 422.86,697.79 424.92,697.82 426.99,697.84 429.06,697.86 431.13,697.87 433.20,697.89 435.26,697.91 437.33,697.92 439.40,697.94" fill="none" stroke="#38ae29" stroke-width="2.7" stroke-linejoin="round"/>
<polyline points="193.00,541.84 195.10,542.77 197.20,543.74 199.29,544.76 201.39,545.81 203.49,546.90 205.59,548.04 207.69,549.22 209.79,550.45 211.88,551.73 213.98,553.05 216.08,554.42 218.18,555.84 220.28,557.31 222.38,558.83 224.47,560.40 226.57,562.02 228.67,563.70 230.77,565.42 232.87,567.20 234.97,569.02 237.06,570.90 239.16,572.82 241.26,574.80 243.36,576.82 245.46,578.89 247.56,581.01 249.65,583.17 251.75,585.37 253.85,587.62 255.95,589.90 258.05,592.22 260.15,594.58 262.24,596.97 264.34,599.39 266.44,601.83 268.54,604.30 270.64,606.79 272.74,609.29 274.83,611.81 276.93,614.34 279.03,616.88 281.13,619.43 283.23,621.97 285.33,624.51 287.42,627.04 289.52,629.57 291.62,632.08 293.72,634.57 295.82,637.05 297.92,639.50 300.01,641.92 302.11,644.32 304.21,646.69 306.31,649.02 308.41,651.32 310.51,653.57 312.60,655.79 314.70,657.97 316.80,660.10 318.90,662.18 321.00,664.22 323.10,666.21 325.19,668.15 327.29,670.04 329.39,671.88 331.49,673.68 333.59,675.41 335.69,677.10 337.78,678.74 339.88,680.33 341.98,681.86 344.08,683.35 346.18,684.78 348.28,686.17 350.37,687.51 352.47,688.80 354.57,690.04 356.67,691.24 358.77,692.39 360.87,693.50 362.96,694.57 365.06,695.59 367.16,696.57 369.26,697.52 371.36,698.42 373.46,699.29 375.55,700.12 377.65,700.91 379.75,701.68 381.85,702.41 383.95,703.10 386.05,703.77 388.14,704.41 390.24,705.02 392.34,705.60 394.44,706.16 396.54,706.69 398.64,707.19 400.73,707.68 402.83,708.14 404.93,708.58 407.03,709.00 409.13,709.40 411.23,709.78 413.32,710.14 415.42,710.49 417.52,710.82 419.62,711.13 421.72,711.43 423.82,711.71 425.91,711.98 428.01,712.24 430.11,712.49 432.21,712.72 434.31,712.94 436.41,713.15 438.50,713.35 440.60,713.55 442.70,713.73" fill="none" stroke="#3a309a" stroke-width="2.7" stroke-linejoin="round"/>
<polyline points="193.00,520.08 195.10,520.28 197.20,520.50 199.29,520.72 201.39,520.97 203.49,521.23 205.59,521.51 207.69,521.80 209.79,522.12 211.88,522.46 213.98,522.82 216.08,523.21 218.18,523.62 220.28,524.06 222.38,524.53 224.47,525.03 226.57,525.56 228.67,526.13 230.77,526.73 232.87,527.37 234.97,528.05 237.06,528.78 239.16,529.55 241.26,530.36 243.36,531.23 245.46,532.15 247.56,533.12 249.65,534.15 251.75,535.24 253.85,536.40 255.95,537.61 258.05,538.90 260.15,540.25 262.24,541.67 264.34,543.17 266.44,544.75 268.54,546.40 270.64,548.13 272.74,549.94 274.83,551.83 276.93,553.81 279.03,555.87 281.13,558.01 283.23,560.23 285.33,562.54 287.42,564.92 289.52,567.39 291.62,569.93 293.72,572.55 295.82,575.24 297.92,577.99 300.01,580.81 302.11,583.69 304.21,586.61 306.31,589.59 308.41,592.61 310.51,595.66 312.60,598.74 314.70,601.84 316.80,604.95 318.90,608.07 321.00,611.19 323.10,614.30 325.19,617.40 327.29,620.47 329.39,623.51 331.49,626.51 333.59,629.47 335.69,632.38 337.78,635.23 339.88,638.02 341.98,640.75 344.08,643.42 346.18,646.00 348.28,648.52 350.37,650.95 352.47,653.31 354.57,655.58 356.67,657.78 358.77,659.89 360.87,661.91 362.96,663.86 365.06,665.72 367.16,667.50 369.26,669.20 371.36,670.82 373.46,672.36 375.55,673.83 377.65,675.23 379.75,676.56 381.85,677.81 383.95,679.00 386.05,680.13 388.14,681.20 390.24,682.21 392.34,683.16 394.44,684.06 396.54,684.91 398.64,685.71 400.73,686.46 402.83,687.17 404.93,687.83 407.03,688.46 409.13,689.05 411.23,689.60 413.32,690.12 415.42,690.61 417.52,691.06 419.62,691.49 421.72,691.89 423.82,692.27 425.91,692.62 428.01,692.95 430.11,693.26 432.21,693.55 434.31,693.83 436.41,694.08 438.50,694.32 440.60,694.54 442.70,694.75" fill="none" stroke="#000000" stroke-width="2.7" stroke-linejoin="round"/>
<path d="M662.4,478.13 H671 V778.45 H971 V787.05" fill="none" stroke="#000" stroke-width="3.0" stroke-linejoin="miter"/>
<line x1="662.4" y1="778.45" x2="671" y2="778.45" stroke="#000" stroke-width="3.0" stroke-linecap="butt"/>
<text x="662.3" y="788.45" font-size="24.0" text-anchor="end">-0.4</text>
<line x1="662.4" y1="740.91" x2="671" y2="740.91" stroke="#000" stroke-width="3.0" stroke-linecap="butt"/>
<text x="662.3" y="750.91" font-size="24.0" text-anchor="end">-0.2</text>
<line x1="662.4" y1="703.37" x2="671" y2="703.37" stroke="#000" stroke-width="3.0" stroke-linecap="butt"/>
<text x="662.3" y="713.37" font-size="24.0" text-anchor="end">0.0</text>
<line x1="662.4" y1="665.83" x2="671" y2="665.83" stroke="#000" stroke-width="3.0" stroke-linecap="butt"/>
<text x="662.3" y="675.83" font-size="24.0" text-anchor="end">0.2</text>
<line x1="662.4" y1="628.29" x2="671" y2="628.29" stroke="#000" stroke-width="3.0" stroke-linecap="butt"/>
<text x="662.3" y="638.29" font-size="24.0" text-anchor="end">0.4</text>
<line x1="662.4" y1="590.75" x2="671" y2="590.75" stroke="#000" stroke-width="3.0" stroke-linecap="butt"/>
<text x="662.3" y="600.75" font-size="24.0" text-anchor="end">0.6</text>
<line x1="662.4" y1="553.21" x2="671" y2="553.21" stroke="#000" stroke-width="3.0" stroke-linecap="butt"/>
<text x="662.3" y="563.21" font-size="24.0" text-anchor="end">0.8</text>
<line x1="662.4" y1="515.67" x2="671" y2="515.67" stroke="#000" stroke-width="3.0" stroke-linecap="butt"/>
<text x="662.3" y="525.67" font-size="24.0" text-anchor="end">1.0</text>
<text x="662.3" y="488.13" font-size="24.0" text-anchor="end">1.2</text>
<line x1="671" y1="778.45" x2="671" y2="787.05" stroke="#000" stroke-width="3.0" stroke-linecap="butt"/>
<text x="674.8" y="815.85" font-size="24.0" text-anchor="middle">-2</text>
<line x1="746" y1="778.45" x2="746" y2="787.05" stroke="#000" stroke-width="3.0" stroke-linecap="butt"/>
<text x="749.8" y="815.85" font-size="24.0" text-anchor="middle">-1</text>
<line x1="821" y1="778.45" x2="821" y2="787.05" stroke="#000" stroke-width="3.0" stroke-linecap="butt"/>
<text x="824.8" y="815.85" font-size="24.0" text-anchor="middle">0</text>
<line x1="896" y1="778.45" x2="896" y2="787.05" stroke="#000" stroke-width="3.0" stroke-linecap="butt"/>
<text x="899.8" y="815.85" font-size="24.0" text-anchor="middle">1</text>
<text x="974.8" y="815.85" font-size="24.0" text-anchor="middle">2</text>
<text x="604.6" y="613.7" font-size="23.9" text-anchor="middle" transform="rotate(-90 604.6 613.7)">relative activity</text>
<text x="682.3" y="846.2" font-size="23.9" text-anchor="start">log conc. CGP070667 [µM]</text>
<line x1="670.1" y1="703.37" x2="972" y2="703.37" stroke="#000" stroke-width="5.4" stroke-linecap="round" stroke-dasharray="0 9.03"/>
<path d="M717.05,662 V710 M711.25,662 H722.85 M711.25,710 H722.85" stroke="#000" stroke-width="2.6" fill="none"/>
<path d="M752.9,665 V707 M747.1,665 H758.7 M747.1,707 H758.7" stroke="#000" stroke-width="2.6" fill="none"/>
<path d="M896,646.7 V677.7 M890.2,646.7 H901.8 M890.2,677.7 H901.8" stroke="#000" stroke-width="2.6" fill="none"/>
<circle cx="681.27" cy="640" r="5.85" fill="#e53424" stroke="#000" stroke-width="2.8"/>
<circle cx="717.05" cy="686" r="5.85" fill="#e53424" stroke="#000" stroke-width="2.8"/>
<circle cx="752.9" cy="686" r="5.85" fill="#e53424" stroke="#000" stroke-width="2.8"/>
<circle cx="788.67" cy="700" r="5.85" fill="#e53424" stroke="#000" stroke-width="2.8"/>
<circle cx="824.45" cy="700" r="5.85" fill="#e53424" stroke="#000" stroke-width="2.8"/>
<circle cx="860.23" cy="700" r="5.85" fill="#e53424" stroke="#000" stroke-width="2.8"/>
<circle cx="896" cy="662.2" r="5.85" fill="#e53424" stroke="#000" stroke-width="2.8"/>
<circle cx="931.78" cy="676" r="5.85" fill="#e53424" stroke="#000" stroke-width="2.8"/>
<path d="M681.27,564.4 V672.7 M675.48,564.4 H687.07 M675.48,672.7 H687.07" stroke="#000" stroke-width="2.6" fill="none"/>
<path d="M717.05,633.6 V685.6 M711.25,633.6 H722.85 M711.25,685.6 H722.85" stroke="#000" stroke-width="2.6" fill="none"/>
<path d="M752.9,638.2 V686.2 M747.1,638.2 H758.7 M747.1,686.2 H758.7" stroke="#000" stroke-width="2.6" fill="none"/>
<path d="M860.23,678.3 V688.3 M854.43,678.3 H866.02 M854.43,688.3 H866.02" stroke="#000" stroke-width="2.6" fill="none"/>
<path d="M931.78,665.3 V687.3 M925.98,665.3 H937.58 M925.98,687.3 H937.58" stroke="#000" stroke-width="2.6" fill="none"/>
<circle cx="681.27" cy="614" r="5.85" fill="#2bb920" stroke="#000" stroke-width="2.8"/>
<circle cx="717.05" cy="659.6" r="5.85" fill="#2bb920" stroke="#000" stroke-width="2.8"/>
<circle cx="752.9" cy="662.2" r="5.85" fill="#2bb920" stroke="#000" stroke-width="2.8"/>
<circle cx="788.67" cy="687.4" r="5.85" fill="#2bb920" stroke="#000" stroke-width="2.8"/>
<circle cx="824.45" cy="684" r="5.85" fill="#2bb920" stroke="#000" stroke-width="2.8"/>
<circle cx="860.23" cy="683.3" r="5.85" fill="#2bb920" stroke="#000" stroke-width="2.8"/>
<circle cx="896" cy="673.6" r="5.85" fill="#2bb920" stroke="#000" stroke-width="2.8"/>
<circle cx="931.78" cy="676.3" r="5.85" fill="#2bb920" stroke="#000" stroke-width="2.8"/>
<path d="M681.27,628.8 V656.8 M675.48,628.8 H687.07 M675.48,656.8 H687.07" stroke="#000" stroke-width="2.6" fill="none"/>
<path d="M717.05,638.9 V658.9 M711.25,638.9 H722.85 M711.25,658.9 H722.85" stroke="#000" stroke-width="2.6" fill="none"/>
<path d="M752.9,631.5 V659.5 M747.1,631.5 H758.7 M747.1,659.5 H758.7" stroke="#000" stroke-width="2.6" fill="none"/>
<path d="M788.67,653.6 V679.6 M782.88,653.6 H794.47 M782.88,679.6 H794.47" stroke="#000" stroke-width="2.6" fill="none"/>
<circle cx="681.27" cy="642.8" r="5.85" fill="#4a54ba" stroke="#000" stroke-width="2.8"/>
<circle cx="717.05" cy="648.9" r="5.85" fill="#4a54ba" stroke="#000" stroke-width="2.8"/>
<circle cx="752.9" cy="645.5" r="5.85" fill="#4a54ba" stroke="#000" stroke-width="2.8"/>
<circle cx="788.67" cy="666.6" r="5.85" fill="#4a54ba" stroke="#000" stroke-width="2.8"/>
<circle cx="824.45" cy="682.4" r="5.85" fill="#4a54ba" stroke="#000" stroke-width="2.8"/>
<circle cx="860.23" cy="699.2" r="5.85" fill="#4a54ba" stroke="#000" stroke-width="2.8"/>
<circle cx="896" cy="698.3" r="5.85" fill="#4a54ba" stroke="#000" stroke-width="2.8"/>
<circle cx="931.78" cy="698.3" r="5.85" fill="#4a54ba" stroke="#000" stroke-width="2.8"/>
<path d="M681.27,598.1 V624.1 M675.48,598.1 H687.07 M675.48,624.1 H687.07" stroke="#000" stroke-width="2.6" fill="none"/>
<path d="M824.45,665.8 V729 M818.65,665.8 H830.25 M818.65,729 H830.25" stroke="#000" stroke-width="2.6" fill="none"/>
<path d="M860.23,703.5 V719.5 M854.43,703.5 H866.02 M854.43,719.5 H866.02" stroke="#000" stroke-width="2.6" fill="none"/>
<circle cx="681.27" cy="611.1" r="5.85" fill="#000000" stroke="#000" stroke-width="2.8"/>
<circle cx="717.05" cy="651.6" r="5.85" fill="#000000" stroke="#000" stroke-width="2.8"/>
<circle cx="752.9" cy="673.6" r="5.85" fill="#000000" stroke="#000" stroke-width="2.8"/>
<circle cx="788.67" cy="702.7" r="5.85" fill="#000000" stroke="#000" stroke-width="2.8"/>
<circle cx="824.45" cy="697.4" r="5.85" fill="#000000" stroke="#000" stroke-width="2.8"/>
<circle cx="860.23" cy="711.5" r="5.85" fill="#000000" stroke="#000" stroke-width="2.8"/>
<circle cx="896" cy="707.1" r="5.85" fill="#000000" stroke="#000" stroke-width="2.8"/>
<circle cx="931.78" cy="711.5" r="5.85" fill="#000000" stroke="#000" stroke-width="2.8"/>
<polyline points="682.00,616.31 684.10,618.02 686.20,619.84 688.30,621.75 690.40,623.75 692.50,625.83 694.59,627.99 696.69,630.22 698.79,632.50 700.89,634.82 702.99,637.17 705.09,639.54 707.19,641.91 709.29,644.26 711.39,646.59 713.49,648.88 715.59,651.11 717.69,653.28 719.78,655.38 721.88,657.39 723.98,659.32 726.08,661.14 728.18,662.88 730.28,664.51 732.38,666.04 734.48,667.47 736.58,668.80 738.68,670.03 740.78,671.18 742.88,672.23 744.97,673.20 747.07,674.09 749.17,674.91 751.27,675.65 753.37,676.33 755.47,676.95 757.57,677.51 759.67,678.02 761.77,678.48 763.87,678.89 765.97,679.27 768.07,679.61 770.16,679.92 772.26,680.20 774.36,680.45 776.46,680.67 778.56,680.88 780.66,681.06 782.76,681.22 784.86,681.37 786.96,681.50 789.06,681.62 791.16,681.73 793.26,681.82 795.35,681.91 797.45,681.99 799.55,682.05 801.65,682.12 803.75,682.17 805.85,682.22 807.95,682.27 810.05,682.31 812.15,682.34 814.25,682.37 816.35,682.40 818.45,682.43 820.54,682.45 822.64,682.47 824.74,682.49 826.84,682.51 828.94,682.52 831.04,682.54 833.14,682.55 835.24,682.56 837.34,682.57 839.44,682.58 841.54,682.59 843.64,682.59 845.73,682.60 847.83,682.60 849.93,682.61 852.03,682.61 854.13,682.62 856.23,682.62 858.33,682.62 860.43,682.63 862.53,682.63 864.63,682.63 866.73,682.63 868.83,682.64 870.92,682.64 873.02,682.64 875.12,682.64 877.22,682.64 879.32,682.64 881.42,682.64 883.52,682.64 885.62,682.64 887.72,682.65 889.82,682.65 891.92,682.65 894.02,682.65 896.11,682.65 898.21,682.65 900.31,682.65 902.41,682.65 904.51,682.65 906.61,682.65 908.71,682.65 910.81,682.65 912.91,682.65 915.01,682.65 917.11,682.65 919.21,682.65 921.30,682.65 923.40,682.65 925.50,682.65 927.60,682.65 929.70,682.65 931.80,682.65" fill="none" stroke="#38ae29" stroke-width="2.7" stroke-linejoin="round"/>
<polyline points="682.00,637.18 684.10,637.82 686.20,638.47 688.30,639.12 690.40,639.78 692.50,640.44 694.59,641.10 696.69,641.76 698.79,642.42 700.89,643.09 702.99,643.76 705.09,644.43 707.19,645.11 709.29,645.78 711.39,646.46 713.49,647.14 715.59,647.82 717.69,648.50 719.78,649.19 721.88,649.87 723.98,650.56 726.08,651.24 728.18,651.93 730.28,652.62 732.38,653.31 734.48,653.99 736.58,654.68 738.68,655.37 740.78,656.06 742.88,656.75 744.97,657.44 747.07,658.12 749.17,658.81 751.27,659.49 753.37,660.18 755.47,660.86 757.57,661.55 759.67,662.23 761.77,662.91 763.87,663.58 765.97,664.26 768.07,664.93 770.16,665.61 772.26,666.28 774.36,666.94 776.46,667.61 778.56,668.27 780.66,668.93 782.76,669.59 784.86,670.25 786.96,670.90 789.06,671.55 791.16,672.19 793.26,672.83 795.35,673.47 797.45,674.11 799.55,674.74 801.65,675.37 803.75,676.00 805.85,676.62 807.95,677.23 810.05,677.85 812.15,678.45 814.25,679.06 816.35,679.66 818.45,680.26 820.54,680.85 822.64,681.43 824.74,682.02 826.84,682.60 828.94,683.17 831.04,683.74 833.14,684.30 835.24,684.86 837.34,685.42 839.44,685.96 841.54,686.51 843.64,687.05 845.73,687.58 847.83,688.11 849.93,688.64 852.03,689.16 854.13,689.67 856.23,690.18 858.33,690.68 860.43,691.18 862.53,691.67 864.63,692.16 866.73,692.64 868.83,693.12 870.92,693.59 873.02,694.06 875.12,694.52 877.22,694.98 879.32,695.43 881.42,695.88 883.52,696.32 885.62,696.75 887.72,697.18 889.82,697.60 891.92,698.02 894.02,698.44 896.11,698.85 898.21,699.25 900.31,699.65 902.41,700.04 904.51,700.43 906.61,700.81 908.71,701.19 910.81,701.57 912.91,701.93 915.01,702.30 917.11,702.65 919.21,703.01 921.30,703.36 923.40,703.70 925.50,704.04 927.60,704.37 929.70,704.70 931.80,705.02" fill="none" stroke="#3a309a" stroke-width="2.7" stroke-linejoin="round"/>
<polyline points="682.00,613.08 684.10,615.80 686.20,618.48 688.30,621.10 690.40,623.68 692.50,626.20 694.59,628.67 696.69,631.09 698.79,633.46 700.89,635.78 702.99,638.05 705.09,640.27 707.19,642.43 709.29,644.55 711.39,646.61 713.49,648.63 715.59,650.59 717.69,652.51 719.78,654.38 721.88,656.20 723.98,657.97 726.08,659.70 728.18,661.38 730.28,663.02 732.38,664.61 734.48,666.16 736.58,667.66 738.68,669.12 740.78,670.54 742.88,671.92 744.97,673.26 747.07,674.57 749.17,675.83 751.27,677.06 753.37,678.24 755.47,679.40 757.57,680.52 759.67,681.60 761.77,682.65 763.87,683.67 765.97,684.66 768.07,685.62 770.16,686.54 772.26,687.44 774.36,688.31 776.46,689.15 778.56,689.96 780.66,690.75 782.76,691.51 784.86,692.25 786.96,692.96 789.06,693.65 791.16,694.32 793.26,694.96 795.35,695.59 797.45,696.19 799.55,696.77 801.65,697.34 803.75,697.88 805.85,698.41 807.95,698.91 810.05,699.41 812.15,699.88 814.25,700.34 816.35,700.78 818.45,701.21 820.54,701.62 822.64,702.02 824.74,702.40 826.84,702.77 828.94,703.13 831.04,703.48 833.14,703.81 835.24,704.13 837.34,704.45 839.44,704.75 841.54,705.04 843.64,705.31 845.73,705.58 847.83,705.84 849.93,706.10 852.03,706.34 854.13,706.57 856.23,706.80 858.33,707.01 860.43,707.22 862.53,707.43 864.63,707.62 866.73,707.81 868.83,707.99 870.92,708.17 873.02,708.34 875.12,708.50 877.22,708.65 879.32,708.81 881.42,708.95 883.52,709.09 885.62,709.23 887.72,709.36 889.82,709.49 891.92,709.61 894.02,709.72 896.11,709.84 898.21,709.95 900.31,710.05 902.41,710.15 904.51,710.25 906.61,710.34 908.71,710.43 910.81,710.52 912.91,710.61 915.01,710.69 917.11,710.77 919.21,710.84 921.30,710.91 923.40,710.98 925.50,711.05 927.60,711.12 929.70,711.18 931.80,711.24" fill="none" stroke="#000000" stroke-width="2.7" stroke-linejoin="round"/>
<path d="M1165.1,480.28 H1173.7 V780.6 H1473.7 V789.2" fill="none" stroke="#000" stroke-width="3.0" stroke-linejoin="miter"/>
<line x1="1165.1" y1="780.6" x2="1173.7" y2="780.6" stroke="#000" stroke-width="3.0" stroke-linecap="butt"/>
<text x="1163.9" y="790.6" font-size="24.0" text-anchor="end">-0.4</text>
<line x1="1165.1" y1="743.06" x2="1173.7" y2="743.06" stroke="#000" stroke-width="3.0" stroke-linecap="butt"/>
<text x="1163.9" y="753.06" font-size="24.0" text-anchor="end">-0.2</text>
<line x1="1165.1" y1="705.52" x2="1173.7" y2="705.52" stroke="#000" stroke-width="3.0" stroke-linecap="butt"/>
<text x="1163.9" y="715.52" font-size="24.0" text-anchor="end">0.0</text>
<line x1="1165.1" y1="667.98" x2="1173.7" y2="667.98" stroke="#000" stroke-width="3.0" stroke-linecap="butt"/>
<text x="1163.9" y="677.98" font-size="24.0" text-anchor="end">0.2</text>
<line x1="1165.1" y1="630.44" x2="1173.7" y2="630.44" stroke="#000" stroke-width="3.0" stroke-linecap="butt"/>
<text x="1163.9" y="640.44" font-size="24.0" text-anchor="end">0.4</text>
<line x1="1165.1" y1="592.9" x2="1173.7" y2="592.9" stroke="#000" stroke-width="3.0" stroke-linecap="butt"/>
<text x="1163.9" y="602.9" font-size="24.0" text-anchor="end">0.6</text>
<line x1="1165.1" y1="555.36" x2="1173.7" y2="555.36" stroke="#000" stroke-width="3.0" stroke-linecap="butt"/>
<text x="1163.9" y="565.36" font-size="24.0" text-anchor="end">0.8</text>
<line x1="1165.1" y1="517.82" x2="1173.7" y2="517.82" stroke="#000" stroke-width="3.0" stroke-linecap="butt"/>
<text x="1163.9" y="527.82" font-size="24.0" text-anchor="end">1.0</text>
<text x="1163.9" y="490.28" font-size="24.0" text-anchor="end">1.2</text>
<line x1="1173.7" y1="780.6" x2="1173.7" y2="789.2" stroke="#000" stroke-width="3.0" stroke-linecap="butt"/>
<text x="1175.2" y="817.3" font-size="24.0" text-anchor="middle">-2</text>
<line x1="1248.7" y1="780.6" x2="1248.7" y2="789.2" stroke="#000" stroke-width="3.0" stroke-linecap="butt"/>
<text x="1250.2" y="817.3" font-size="24.0" text-anchor="middle">-1</text>
<line x1="1323.7" y1="780.6" x2="1323.7" y2="789.2" stroke="#000" stroke-width="3.0" stroke-linecap="butt"/>
<text x="1325.2" y="817.3" font-size="24.0" text-anchor="middle">0</text>
<line x1="1398.7" y1="780.6" x2="1398.7" y2="789.2" stroke="#000" stroke-width="3.0" stroke-linecap="butt"/>
<text x="1400.2" y="817.3" font-size="24.0" text-anchor="middle">1</text>
<text x="1475.2" y="817.3" font-size="24.0" text-anchor="middle">2</text>
<text x="1105.8" y="613.7" font-size="23.9" text-anchor="middle" transform="rotate(-90 1105.8 613.7)">relative activity</text>
<text x="1216.5" y="847.2" font-size="23.9" text-anchor="start">log conc. MK801 [µM]</text>
<line x1="1172.8" y1="705.52" x2="1474.7" y2="705.52" stroke="#000" stroke-width="5.4" stroke-linecap="round" stroke-dasharray="0 9.03"/>
<path d="M1219.75,614.4 V658.4 M1213.95,614.4 H1225.55 M1213.95,658.4 H1225.55" stroke="#000" stroke-width="2.6" fill="none"/>
<path d="M1327.15,676.3 V700.3 M1321.35,676.3 H1332.95 M1321.35,700.3 H1332.95" stroke="#000" stroke-width="2.6" fill="none"/>
<path d="M1362.93,688.3 V712.3 M1357.13,688.3 H1368.73 M1357.13,712.3 H1368.73" stroke="#000" stroke-width="2.6" fill="none"/>
<path d="M1434.48,670.8 V678.8 M1428.68,670.8 H1440.28 M1428.68,678.8 H1440.28" stroke="#000" stroke-width="2.6" fill="none"/>
<circle cx="1183.98" cy="632.5" r="5.85" fill="#e53424" stroke="#000" stroke-width="2.8"/>
<circle cx="1219.75" cy="636.4" r="5.85" fill="#e53424" stroke="#000" stroke-width="2.8"/>
<circle cx="1255.6" cy="676" r="5.85" fill="#e53424" stroke="#000" stroke-width="2.8"/>
<circle cx="1291.38" cy="715.3" r="5.85" fill="#e53424" stroke="#000" stroke-width="2.8"/>
<circle cx="1327.15" cy="688.3" r="5.85" fill="#e53424" stroke="#000" stroke-width="2.8"/>
<circle cx="1362.93" cy="700.3" r="5.85" fill="#e53424" stroke="#000" stroke-width="2.8"/>
<circle cx="1398.7" cy="688.3" r="5.85" fill="#e53424" stroke="#000" stroke-width="2.8"/>
<circle cx="1434.48" cy="674.8" r="5.85" fill="#e53424" stroke="#000" stroke-width="2.8"/>
<path d="M1183.98,622.5 V642.5 M1178.18,622.5 H1189.78 M1178.18,642.5 H1189.78" stroke="#000" stroke-width="2.6" fill="none"/>
<path d="M1219.75,660.2 V674.2 M1213.95,660.2 H1225.55 M1213.95,674.2 H1225.55" stroke="#000" stroke-width="2.6" fill="none"/>
<path d="M1291.38,721.9 V737.9 M1285.58,721.9 H1297.17 M1285.58,737.9 H1297.17" stroke="#000" stroke-width="2.6" fill="none"/>
<circle cx="1183.98" cy="632.5" r="5.85" fill="#2bb920" stroke="#000" stroke-width="2.8"/>
<circle cx="1219.75" cy="667.2" r="5.85" fill="#2bb920" stroke="#000" stroke-width="2.8"/>
<circle cx="1255.6" cy="685.3" r="5.85" fill="#2bb920" stroke="#000" stroke-width="2.8"/>
<circle cx="1291.38" cy="729.9" r="5.85" fill="#2bb920" stroke="#000" stroke-width="2.8"/>
<circle cx="1327.15" cy="721.4" r="5.85" fill="#2bb920" stroke="#000" stroke-width="2.8"/>
<circle cx="1362.93" cy="727.6" r="5.85" fill="#2bb920" stroke="#000" stroke-width="2.8"/>
<circle cx="1398.7" cy="701.2" r="5.85" fill="#2bb920" stroke="#000" stroke-width="2.8"/>
<circle cx="1434.48" cy="681.8" r="5.85" fill="#2bb920" stroke="#000" stroke-width="2.8"/>
<path d="M1183.98,605.7 V621.7 M1178.18,605.7 H1189.78 M1178.18,621.7 H1189.78" stroke="#000" stroke-width="2.6" fill="none"/>
<path d="M1219.75,618.7 V634.7 M1213.95,618.7 H1225.55 M1213.95,634.7 H1225.55" stroke="#000" stroke-width="2.6" fill="none"/>
<circle cx="1183.98" cy="613.7" r="5.85" fill="#4a54ba" stroke="#000" stroke-width="2.8"/>
<circle cx="1219.75" cy="626.7" r="5.85" fill="#4a54ba" stroke="#000" stroke-width="2.8"/>
<circle cx="1255.6" cy="673" r="5.85" fill="#4a54ba" stroke="#000" stroke-width="2.8"/>
<circle cx="1291.38" cy="703.8" r="5.85" fill="#4a54ba" stroke="#000" stroke-width="2.8"/>
<circle cx="1327.15" cy="716.5" r="5.85" fill="#4a54ba" stroke="#000" stroke-width="2.8"/>
<circle cx="1362.93" cy="723.2" r="5.85" fill="#4a54ba" stroke="#000" stroke-width="2.8"/>
<circle cx="1398.7" cy="712" r="5.85" fill="#4a54ba" stroke="#000" stroke-width="2.8"/>
<circle cx="1434.48" cy="716" r="5.85" fill="#4a54ba" stroke="#000" stroke-width="2.8"/>
<path d="M1183.98,583.5 V596.5 M1178.18,583.5 H1189.78 M1178.18,596.5 H1189.78" stroke="#000" stroke-width="2.6" fill="none"/>
<path d="M1219.75,575.1 V626.3 M1213.95,575.1 H1225.55 M1213.95,626.3 H1225.55" stroke="#000" stroke-width="2.6" fill="none"/>
<path d="M1255.6,647.3 V664.3 M1249.8,647.3 H1261.4 M1249.8,664.3 H1261.4" stroke="#000" stroke-width="2.6" fill="none"/>
<path d="M1291.38,648.4 V701.2 M1285.58,648.4 H1297.17 M1285.58,701.2 H1297.17" stroke="#000" stroke-width="2.6" fill="none"/>
<circle cx="1183.98" cy="590" r="5.85" fill="#000000" stroke="#000" stroke-width="2.8"/>
<circle cx="1219.75" cy="600.7" r="5.85" fill="#000000" stroke="#000" stroke-width="2.8"/>
<circle cx="1255.6" cy="655.8" r="5.85" fill="#000000" stroke="#000" stroke-width="2.8"/>
<circle cx="1291.38" cy="674.8" r="5.85" fill="#000000" stroke="#000" stroke-width="2.8"/>
<circle cx="1327.15" cy="698.5" r="5.85" fill="#000000" stroke="#000" stroke-width="2.8"/>
<circle cx="1362.93" cy="712.6" r="5.85" fill="#000000" stroke="#000" stroke-width="2.8"/>
<circle cx="1398.7" cy="711.7" r="5.85" fill="#000000" stroke="#000" stroke-width="2.8"/>
<circle cx="1434.48" cy="715.3" r="5.85" fill="#000000" stroke="#000" stroke-width="2.8"/>
<polyline points="1184.40,631.63 1186.48,633.57 1188.57,635.48 1190.65,637.36 1192.74,639.20 1194.82,641.00 1196.90,642.77 1198.99,644.50 1201.07,646.19 1203.16,647.85 1205.24,649.46 1207.32,651.04 1209.41,652.57 1211.49,654.07 1213.58,655.52 1215.66,656.94 1217.74,658.31 1219.83,659.65 1221.91,660.95 1224.00,662.21 1226.08,663.43 1228.16,664.61 1230.25,665.76 1232.33,666.87 1234.42,667.94 1236.50,668.97 1238.58,669.98 1240.67,670.94 1242.75,671.88 1244.84,672.78 1246.92,673.65 1249.01,674.49 1251.09,675.29 1253.17,676.07 1255.26,676.82 1257.34,677.54 1259.43,678.23 1261.51,678.90 1263.59,679.54 1265.68,680.16 1267.76,680.75 1269.85,681.32 1271.93,681.87 1274.01,682.40 1276.10,682.90 1278.18,683.39 1280.27,683.85 1282.35,684.30 1284.43,684.72 1286.52,685.13 1288.60,685.53 1290.69,685.90 1292.77,686.26 1294.85,686.61 1296.94,686.94 1299.02,687.26 1301.11,687.56 1303.19,687.85 1305.27,688.13 1307.36,688.40 1309.44,688.65 1311.53,688.90 1313.61,689.13 1315.69,689.36 1317.78,689.57 1319.86,689.77 1321.95,689.97 1324.03,690.16 1326.11,690.34 1328.20,690.51 1330.28,690.67 1332.37,690.83 1334.45,690.98 1336.53,691.12 1338.62,691.26 1340.70,691.39 1342.79,691.51 1344.87,691.63 1346.95,691.75 1349.04,691.86 1351.12,691.96 1353.21,692.06 1355.29,692.16 1357.37,692.25 1359.46,692.33 1361.54,692.42 1363.63,692.50 1365.71,692.57 1367.79,692.64 1369.88,692.71 1371.96,692.78 1374.05,692.84 1376.13,692.90 1378.22,692.96 1380.30,693.01 1382.38,693.07 1384.47,693.12 1386.55,693.16 1388.64,693.21 1390.72,693.25 1392.80,693.30 1394.89,693.34 1396.97,693.37 1399.06,693.41 1401.14,693.44 1403.22,693.48 1405.31,693.51 1407.39,693.54 1409.48,693.57 1411.56,693.60 1413.64,693.62 1415.73,693.65 1417.81,693.67 1419.90,693.69 1421.98,693.72 1424.06,693.74 1426.15,693.76 1428.23,693.77 1430.32,693.79 1432.40,693.81" fill="none" stroke="#dc3a2c" stroke-width="2.7" stroke-linejoin="round"/>
<polyline points="1184.40,633.47 1186.50,636.07 1188.60,638.64 1190.69,641.18 1192.79,643.69 1194.89,646.16 1196.99,648.58 1199.09,650.96 1201.19,653.30 1203.28,655.58 1205.38,657.82 1207.48,660.00 1209.58,662.12 1211.68,664.19 1213.78,666.20 1215.87,668.16 1217.97,670.05 1220.07,671.89 1222.17,673.67 1224.27,675.38 1226.37,677.04 1228.46,678.64 1230.56,680.19 1232.66,681.67 1234.76,683.10 1236.86,684.47 1238.96,685.79 1241.05,687.06 1243.15,688.27 1245.25,689.43 1247.35,690.54 1249.45,691.61 1251.55,692.63 1253.64,693.60 1255.74,694.53 1257.84,695.41 1259.94,696.26 1262.04,697.07 1264.14,697.83 1266.23,698.57 1268.33,699.26 1270.43,699.93 1272.53,700.56 1274.63,701.16 1276.73,701.73 1278.82,702.27 1280.92,702.78 1283.02,703.27 1285.12,703.74 1287.22,704.18 1289.32,704.59 1291.41,704.99 1293.51,705.37 1295.61,705.72 1297.71,706.06 1299.81,706.38 1301.91,706.68 1304.00,706.97 1306.10,707.24 1308.20,707.50 1310.30,707.74 1312.40,707.97 1314.50,708.19 1316.59,708.40 1318.69,708.60 1320.79,708.78 1322.89,708.96 1324.99,709.12 1327.09,709.28 1329.18,709.43 1331.28,709.57 1333.38,709.70 1335.48,709.83 1337.58,709.94 1339.68,710.06 1341.77,710.16 1343.87,710.26 1345.97,710.36 1348.07,710.45 1350.17,710.53 1352.27,710.61 1354.36,710.69 1356.46,710.76 1358.56,710.83 1360.66,710.89 1362.76,710.95 1364.86,711.01 1366.95,711.06 1369.05,711.11 1371.15,711.16 1373.25,711.21 1375.35,711.25 1377.45,711.29 1379.54,711.33 1381.64,711.36 1383.74,711.40 1385.84,711.43 1387.94,711.46 1390.04,711.49 1392.13,711.52 1394.23,711.54 1396.33,711.57 1398.43,711.59 1400.53,711.61 1402.63,711.63 1404.72,711.65 1406.82,711.67 1408.92,711.69 1411.02,711.70 1413.12,711.72 1415.22,711.73 1417.31,711.75 1419.41,711.76 1421.51,711.77 1423.61,711.78 1425.71,711.79 1427.81,711.80 1429.90,711.81 1432.00,711.82 1434.10,711.83" fill="none" stroke="#38ae29" stroke-width="2.7" stroke-linejoin="round"/>
<polyline points="1184.40,604.34 1186.50,606.17 1188.60,608.04 1190.69,609.94 1192.79,611.87 1194.89,613.83 1196.99,615.81 1199.09,617.82 1201.19,619.86 1203.28,621.91 1205.38,623.99 1207.48,626.08 1209.58,628.18 1211.68,630.30 1213.78,632.42 1215.87,634.55 1217.97,636.69 1220.07,638.82 1222.17,640.95 1224.27,643.07 1226.37,645.19 1228.46,647.30 1230.56,649.39 1232.66,651.47 1234.76,653.53 1236.86,655.58 1238.96,657.59 1241.05,659.59 1243.15,661.55 1245.25,663.49 1247.35,665.40 1249.45,667.27 1251.55,669.12 1253.64,670.92 1255.74,672.69 1257.84,674.43 1259.94,676.12 1262.04,677.78 1264.14,679.39 1266.23,680.97 1268.33,682.50 1270.43,684.00 1272.53,685.45 1274.63,686.86 1276.73,688.23 1278.82,689.55 1280.92,690.84 1283.02,692.09 1285.12,693.29 1287.22,694.46 1289.32,695.58 1291.41,696.67 1293.51,697.72 1295.61,698.73 1297.71,699.71 1299.81,700.65 1301.91,701.55 1304.00,702.42 1306.10,703.26 1308.20,704.06 1310.30,704.83 1312.40,705.57 1314.50,706.29 1316.59,706.97 1318.69,707.63 1320.79,708.25 1322.89,708.85 1324.99,709.43 1327.09,709.98 1329.18,710.51 1331.28,711.02 1333.38,711.50 1335.48,711.96 1337.58,712.41 1339.68,712.83 1341.77,713.23 1343.87,713.62 1345.97,713.99 1348.07,714.34 1350.17,714.68 1352.27,715.00 1354.36,715.31 1356.46,715.60 1358.56,715.88 1360.66,716.14 1362.76,716.40 1364.86,716.64 1366.95,716.87 1369.05,717.09 1371.15,717.30 1373.25,717.50 1375.35,717.69 1377.45,717.87 1379.54,718.05 1381.64,718.21 1383.74,718.37 1385.84,718.52 1387.94,718.66 1390.04,718.80 1392.13,718.92 1394.23,719.05 1396.33,719.16 1398.43,719.28 1400.53,719.38 1402.63,719.48 1404.72,719.58 1406.82,719.67 1408.92,719.76 1411.02,719.84 1413.12,719.92 1415.22,720.00 1417.31,720.07 1419.41,720.14 1421.51,720.20 1423.61,720.26 1425.71,720.32 1427.81,720.38 1429.90,720.43 1432.00,720.48 1434.10,720.53" fill="none" stroke="#3a309a" stroke-width="2.7" stroke-linejoin="round"/>
<polyline points="1184.40,582.61 1186.50,584.22 1188.60,585.85 1190.69,587.52 1192.79,589.22 1194.89,590.96 1196.99,592.73 1199.09,594.53 1201.19,596.35 1203.28,598.21 1205.38,600.09 1207.48,602.00 1209.58,603.94 1211.68,605.89 1213.78,607.87 1215.87,609.87 1217.97,611.88 1220.07,613.91 1222.17,615.95 1224.27,618.01 1226.37,620.07 1228.46,622.14 1230.56,624.22 1232.66,626.30 1234.76,628.38 1236.86,630.46 1238.96,632.54 1241.05,634.61 1243.15,636.67 1245.25,638.73 1247.35,640.77 1249.45,642.80 1251.55,644.81 1253.64,646.81 1255.74,648.78 1257.84,650.74 1259.94,652.67 1262.04,654.58 1264.14,656.46 1266.23,658.32 1268.33,660.15 1270.43,661.94 1272.53,663.71 1274.63,665.45 1276.73,667.15 1278.82,668.82 1280.92,670.45 1283.02,672.05 1285.12,673.62 1287.22,675.15 1289.32,676.64 1291.41,678.10 1293.51,679.52 1295.61,680.90 1297.71,682.25 1299.81,683.56 1301.91,684.83 1304.00,686.07 1306.10,687.27 1308.20,688.44 1310.30,689.57 1312.40,690.67 1314.50,691.74 1316.59,692.77 1318.69,693.76 1320.79,694.73 1322.89,695.66 1324.99,696.56 1327.09,697.43 1329.18,698.27 1331.28,699.09 1333.38,699.87 1335.48,700.63 1337.58,701.35 1339.68,702.06 1341.77,702.73 1343.87,703.38 1345.97,704.01 1348.07,704.61 1350.17,705.19 1352.27,705.75 1354.36,706.29 1356.46,706.81 1358.56,707.30 1360.66,707.78 1362.76,708.24 1364.86,708.68 1366.95,709.10 1369.05,709.51 1371.15,709.90 1373.25,710.27 1375.35,710.63 1377.45,710.97 1379.54,711.30 1381.64,711.62 1383.74,711.92 1385.84,712.21 1387.94,712.49 1390.04,712.76 1392.13,713.02 1394.23,713.26 1396.33,713.50 1398.43,713.72 1400.53,713.94 1402.63,714.14 1404.72,714.34 1406.82,714.53 1408.92,714.71 1411.02,714.89 1413.12,715.05 1415.22,715.21 1417.31,715.36 1419.41,715.51 1421.51,715.65 1423.61,715.78 1425.71,715.91 1427.81,716.03 1429.90,716.15 1432.00,716.26 1434.10,716.37" fill="none" stroke="#000000" stroke-width="2.7" stroke-linejoin="round"/>
<path d="M172.8,918.28 H181.4 V1218.6 H481.4 V1227.2" fill="none" stroke="#000" stroke-width="3.0" stroke-linejoin="miter"/>
<line x1="172.8" y1="1218.6" x2="181.4" y2="1218.6" stroke="#000" stroke-width="3.0" stroke-linecap="butt"/>
<text x="170.6" y="1228.2" font-size="24.0" text-anchor="end">-0.4</text>
<line x1="172.8" y1="1181.06" x2="181.4" y2="1181.06" stroke="#000" stroke-width="3.0" stroke-linecap="butt"/>
<text x="170.6" y="1190.66" font-size="24.0" text-anchor="end">-0.2</text>
<line x1="172.8" y1="1143.52" x2="181.4" y2="1143.52" stroke="#000" stroke-width="3.0" stroke-linecap="butt"/>
<text x="170.6" y="1153.12" font-size="24.0" text-anchor="end">0.0</text>
<line x1="172.8" y1="1105.98" x2="181.4" y2="1105.98" stroke="#000" stroke-width="3.0" stroke-linecap="butt"/>
<text x="170.6" y="1115.58" font-size="24.0" text-anchor="end">0.2</text>
<line x1="172.8" y1="1068.44" x2="181.4" y2="1068.44" stroke="#000" stroke-width="3.0" stroke-linecap="butt"/>
<text x="170.6" y="1078.04" font-size="24.0" text-anchor="end">0.4</text>
<line x1="172.8" y1="1030.9" x2="181.4" y2="1030.9" stroke="#000" stroke-width="3.0" stroke-linecap="butt"/>
<text x="170.6" y="1040.5" font-size="24.0" text-anchor="end">0.6</text>
<line x1="172.8" y1="993.36" x2="181.4" y2="993.36" stroke="#000" stroke-width="3.0" stroke-linecap="butt"/>
<text x="170.6" y="1002.96" font-size="24.0" text-anchor="end">0.8</text>
<line x1="172.8" y1="955.82" x2="181.4" y2="955.82" stroke="#000" stroke-width="3.0" stroke-linecap="butt"/>
<text x="170.6" y="965.42" font-size="24.0" text-anchor="end">1.0</text>
<text x="170.6" y="927.88" font-size="24.0" text-anchor="end">1.2</text>
<line x1="181.4" y1="1218.6" x2="181.4" y2="1227.2" stroke="#000" stroke-width="3.0" stroke-linecap="butt"/>
<text x="182.5" y="1255.6" font-size="24.0" text-anchor="middle">-2</text>
<line x1="256.4" y1="1218.6" x2="256.4" y2="1227.2" stroke="#000" stroke-width="3.0" stroke-linecap="butt"/>
<text x="257.5" y="1255.6" font-size="24.0" text-anchor="middle">-1</text>
<line x1="331.4" y1="1218.6" x2="331.4" y2="1227.2" stroke="#000" stroke-width="3.0" stroke-linecap="butt"/>
<text x="332.5" y="1255.6" font-size="24.0" text-anchor="middle">0</text>
<line x1="406.4" y1="1218.6" x2="406.4" y2="1227.2" stroke="#000" stroke-width="3.0" stroke-linecap="butt"/>
<text x="407.5" y="1255.6" font-size="24.0" text-anchor="middle">1</text>
<text x="482.5" y="1255.6" font-size="24.0" text-anchor="middle">2</text>
<text x="114.4" y="1053.4" font-size="23.9" text-anchor="middle" transform="rotate(-90 114.4 1053.4)">relative activity</text>
<text x="187.2" y="1286.1" font-size="23.9" text-anchor="start">log conc. MDL105,519 [µM]</text>
<line x1="180.5" y1="1143.52" x2="482.4" y2="1143.52" stroke="#000" stroke-width="5.4" stroke-linecap="round" stroke-dasharray="0 9.03"/>
<path d="M191.68,1000 V1058 M185.88,1000 H197.48 M185.88,1058 H197.48" stroke="#000" stroke-width="2.6" fill="none"/>
<path d="M263.3,1074.6 V1106.6 M257.5,1074.6 H269.1 M257.5,1106.6 H269.1" stroke="#000" stroke-width="2.6" fill="none"/>
<circle cx="191.68" cy="1029" r="5.85" fill="#e53424" stroke="#000" stroke-width="2.8"/>
<circle cx="227.45" cy="1049" r="5.85" fill="#e53424" stroke="#000" stroke-width="2.8"/>
<circle cx="263.3" cy="1090.6" r="5.85" fill="#e53424" stroke="#000" stroke-width="2.8"/>
<circle cx="299.07" cy="1111.7" r="5.85" fill="#e53424" stroke="#000" stroke-width="2.8"/>
<circle cx="334.85" cy="1130.2" r="5.85" fill="#e53424" stroke="#000" stroke-width="2.8"/>
<circle cx="370.62" cy="1145" r="5.85" fill="#e53424" stroke="#000" stroke-width="2.8"/>
<circle cx="406.4" cy="1148" r="5.85" fill="#e53424" stroke="#000" stroke-width="2.8"/>
<circle cx="442.18" cy="1148" r="5.85" fill="#e53424" stroke="#000" stroke-width="2.8"/>
<path d="M227.45,1043.9 V1073.9 M221.65,1043.9 H233.25 M221.65,1073.9 H233.25" stroke="#000" stroke-width="2.6" fill="none"/>
<path d="M263.3,1061.7 V1117.7 M257.5,1061.7 H269.1 M257.5,1117.7 H269.1" stroke="#000" stroke-width="2.6" fill="none"/>
<path d="M299.07,1089.6 V1135.6 M293.27,1089.6 H304.88 M293.27,1135.6 H304.88" stroke="#000" stroke-width="2.6" fill="none"/>
<circle cx="191.68" cy="1040.4" r="5.85" fill="#2bb920" stroke="#000" stroke-width="2.8"/>
<circle cx="227.45" cy="1058.9" r="5.85" fill="#2bb920" stroke="#000" stroke-width="2.8"/>
<circle cx="263.3" cy="1089.7" r="5.85" fill="#2bb920" stroke="#000" stroke-width="2.8"/>
<circle cx="299.07" cy="1112.6" r="5.85" fill="#2bb920" stroke="#000" stroke-width="2.8"/>
<circle cx="334.85" cy="1131" r="5.85" fill="#2bb920" stroke="#000" stroke-width="2.8"/>
<circle cx="370.62" cy="1147" r="5.85" fill="#2bb920" stroke="#000" stroke-width="2.8"/>
<circle cx="406.4" cy="1148.7" r="5.85" fill="#2bb920" stroke="#000" stroke-width="2.8"/>
<circle cx="442.18" cy="1148.7" r="5.85" fill="#2bb920" stroke="#000" stroke-width="2.8"/>
<path d="M191.68,992.7 V1010.7 M185.88,992.7 H197.48 M185.88,1010.7 H197.48" stroke="#000" stroke-width="2.6" fill="none"/>
<path d="M263.3,1055.5 V1076.5 M257.5,1055.5 H269.1 M257.5,1076.5 H269.1" stroke="#000" stroke-width="2.6" fill="none"/>
<path d="M299.07,1091.7 V1109.7 M293.27,1091.7 H304.88 M293.27,1109.7 H304.88" stroke="#000" stroke-width="2.6" fill="none"/>
<path d="M334.85,1111.8 V1131.8 M329.05,1111.8 H340.65 M329.05,1131.8 H340.65" stroke="#000" stroke-width="2.6" fill="none"/>
<circle cx="191.68" cy="1001.7" r="5.85" fill="#4a54ba" stroke="#000" stroke-width="2.8"/>
<circle cx="227.45" cy="1038.7" r="5.85" fill="#4a54ba" stroke="#000" stroke-width="2.8"/>
<circle cx="263.3" cy="1066" r="5.85" fill="#4a54ba" stroke="#000" stroke-width="2.8"/>
<circle cx="299.07" cy="1100.7" r="5.85" fill="#4a54ba" stroke="#000" stroke-width="2.8"/>
<circle cx="334.85" cy="1121.8" r="5.85" fill="#4a54ba" stroke="#000" stroke-width="2.8"/>
<circle cx="370.62" cy="1136.4" r="5.85" fill="#4a54ba" stroke="#000" stroke-width="2.8"/>
<circle cx="406.4" cy="1139.9" r="5.85" fill="#4a54ba" stroke="#000" stroke-width="2.8"/>
<circle cx="442.18" cy="1145.2" r="5.85" fill="#4a54ba" stroke="#000" stroke-width="2.8"/>
<path d="M191.68,980.9 V1034.9 M185.88,980.9 H197.48 M185.88,1034.9 H197.48" stroke="#000" stroke-width="2.6" fill="none"/>
<path d="M227.45,987.1 V1052.5 M221.65,987.1 H233.25 M221.65,1052.5 H233.25" stroke="#000" stroke-width="2.6" fill="none"/>
<path d="M263.3,1021.9 V1060.7 M257.5,1021.9 H269.1 M257.5,1060.7 H269.1" stroke="#000" stroke-width="2.6" fill="none"/>
<path d="M299.07,1044.8 V1119.6 M293.27,1044.8 H304.88 M293.27,1119.6 H304.88" stroke="#000" stroke-width="2.6" fill="none"/>
<path d="M334.85,1063.1 V1099.5 M329.05,1063.1 H340.65 M329.05,1099.5 H340.65" stroke="#000" stroke-width="2.6" fill="none"/>
<path d="M370.62,1093.2 V1106.4 M364.82,1093.2 H376.43 M364.82,1106.4 H376.43" stroke="#000" stroke-width="2.6" fill="none"/>
<path d="M406.4,1084.8 V1129.8 M400.6,1084.8 H412.2 M400.6,1129.8 H412.2" stroke="#000" stroke-width="2.6" fill="none"/>
<path d="M442.18,1111 V1145 M436.38,1111 H447.98 M436.38,1145 H447.98" stroke="#000" stroke-width="2.6" fill="none"/>
<circle cx="191.68" cy="1007.9" r="5.85" fill="#000000" stroke="#000" stroke-width="2.8"/>
<circle cx="227.45" cy="1019.8" r="5.85" fill="#000000" stroke="#000" stroke-width="2.8"/>
<circle cx="263.3" cy="1041.3" r="5.85" fill="#000000" stroke="#000" stroke-width="2.8"/>
<circle cx="299.07" cy="1082.2" r="5.85" fill="#000000" stroke="#000" stroke-width="2.8"/>
<circle cx="334.85" cy="1081.3" r="5.85" fill="#000000" stroke="#000" stroke-width="2.8"/>
<circle cx="370.62" cy="1099.8" r="5.85" fill="#000000" stroke="#000" stroke-width="2.8"/>
<circle cx="406.4" cy="1107.3" r="5.85" fill="#000000" stroke="#000" stroke-width="2.8"/>
<circle cx="442.18" cy="1128" r="5.85" fill="#000000" stroke="#000" stroke-width="2.8"/>
<polyline points="192.00,1025.43 194.10,1027.23 196.20,1029.05 198.30,1030.88 200.40,1032.72 202.50,1034.57 204.61,1036.43 206.71,1038.30 208.81,1040.17 210.91,1042.05 213.01,1043.94 215.11,1045.83 217.21,1047.72 219.31,1049.61 221.41,1051.50 223.51,1053.39 225.61,1055.28 227.71,1057.16 229.82,1059.04 231.92,1060.91 234.02,1062.77 236.12,1064.63 238.22,1066.48 240.32,1068.31 242.42,1070.14 244.52,1071.95 246.62,1073.75 248.72,1075.53 250.82,1077.30 252.92,1079.05 255.03,1080.79 257.13,1082.50 259.23,1084.20 261.33,1085.87 263.43,1087.53 265.53,1089.17 267.63,1090.78 269.73,1092.37 271.83,1093.94 273.93,1095.48 276.03,1097.01 278.13,1098.50 280.24,1099.97 282.34,1101.42 284.44,1102.85 286.54,1104.24 288.64,1105.61 290.74,1106.96 292.84,1108.28 294.94,1109.58 297.04,1110.84 299.14,1112.09 301.24,1113.30 303.34,1114.49 305.45,1115.66 307.55,1116.80 309.65,1117.91 311.75,1119.00 313.85,1120.07 315.95,1121.10 318.05,1122.12 320.15,1123.11 322.25,1124.07 324.35,1125.01 326.45,1125.93 328.55,1126.83 330.66,1127.70 332.76,1128.55 334.86,1129.37 336.96,1130.18 339.06,1130.96 341.16,1131.72 343.26,1132.46 345.36,1133.18 347.46,1133.88 349.56,1134.57 351.66,1135.23 353.76,1135.87 355.87,1136.50 357.97,1137.10 360.07,1137.69 362.17,1138.26 364.27,1138.82 366.37,1139.36 368.47,1139.88 370.57,1140.39 372.67,1140.88 374.77,1141.36 376.87,1141.82 378.97,1142.27 381.08,1142.70 383.18,1143.12 385.28,1143.53 387.38,1143.93 389.48,1144.31 391.58,1144.68 393.68,1145.04 395.78,1145.39 397.88,1145.72 399.98,1146.05 402.08,1146.37 404.18,1146.67 406.29,1146.97 408.39,1147.25 410.49,1147.53 412.59,1147.80 414.69,1148.06 416.79,1148.31 418.89,1148.55 420.99,1148.79 423.09,1149.01 425.19,1149.23 427.29,1149.45 429.39,1149.65 431.50,1149.85 433.60,1150.04 435.70,1150.23 437.80,1150.41 439.90,1150.58 442.00,1150.75" fill="none" stroke="#dc3a2c" stroke-width="2.7" stroke-linejoin="round"/>
<polyline points="192.00,1039.25 194.10,1040.48 196.20,1041.74 198.30,1043.02 200.40,1044.32 202.50,1045.65 204.61,1046.99 206.71,1048.36 208.81,1049.75 210.91,1051.16 213.01,1052.59 215.11,1054.04 217.21,1055.50 219.31,1056.98 221.41,1058.48 223.51,1059.99 225.61,1061.51 227.71,1063.05 229.82,1064.60 231.92,1066.16 234.02,1067.72 236.12,1069.30 238.22,1070.88 240.32,1072.46 242.42,1074.05 244.52,1075.65 246.62,1077.24 248.72,1078.83 250.82,1080.43 252.92,1082.01 255.03,1083.60 257.13,1085.18 259.23,1086.75 261.33,1088.32 263.43,1089.88 265.53,1091.42 267.63,1092.96 269.73,1094.48 271.83,1095.99 273.93,1097.48 276.03,1098.96 278.13,1100.43 280.24,1101.87 282.34,1103.30 284.44,1104.70 286.54,1106.09 288.64,1107.46 290.74,1108.80 292.84,1110.13 294.94,1111.43 297.04,1112.71 299.14,1113.96 301.24,1115.19 303.34,1116.40 305.45,1117.58 307.55,1118.74 309.65,1119.88 311.75,1120.98 313.85,1122.07 315.95,1123.13 318.05,1124.16 320.15,1125.17 322.25,1126.16 324.35,1127.12 326.45,1128.05 328.55,1128.96 330.66,1129.85 332.76,1130.71 334.86,1131.55 336.96,1132.37 339.06,1133.16 341.16,1133.93 343.26,1134.68 345.36,1135.41 347.46,1136.11 349.56,1136.80 351.66,1137.46 353.76,1138.10 355.87,1138.73 357.97,1139.33 360.07,1139.91 362.17,1140.48 364.27,1141.02 366.37,1141.55 368.47,1142.07 370.57,1142.56 372.67,1143.04 374.77,1143.50 376.87,1143.95 378.97,1144.38 381.08,1144.80 383.18,1145.20 385.28,1145.59 387.38,1145.96 389.48,1146.33 391.58,1146.68 393.68,1147.01 395.78,1147.34 397.88,1147.65 399.98,1147.95 402.08,1148.24 404.18,1148.52 406.29,1148.80 408.39,1149.06 410.49,1149.31 412.59,1149.55 414.69,1149.78 416.79,1150.01 418.89,1150.22 420.99,1150.43 423.09,1150.63 425.19,1150.82 427.29,1151.01 429.39,1151.19 431.50,1151.36 433.60,1151.53 435.70,1151.69 437.80,1151.84 439.90,1151.99 442.00,1152.13" fill="none" stroke="#38ae29" stroke-width="2.7" stroke-linejoin="round"/>
<polyline points="192.00,1005.41 194.10,1006.69 196.20,1008.01 198.30,1009.36 200.40,1010.76 202.50,1012.19 204.61,1013.67 206.71,1015.18 208.81,1016.74 210.91,1018.33 213.01,1019.96 215.11,1021.63 217.21,1023.33 219.31,1025.07 221.41,1026.85 223.51,1028.66 225.61,1030.50 227.71,1032.38 229.82,1034.28 231.92,1036.21 234.02,1038.17 236.12,1040.16 238.22,1042.17 240.32,1044.20 242.42,1046.24 244.52,1048.31 246.62,1050.39 248.72,1052.48 250.82,1054.58 252.92,1056.69 255.03,1058.81 257.13,1060.92 259.23,1063.04 261.33,1065.15 263.43,1067.26 265.53,1069.37 267.63,1071.46 269.73,1073.54 271.83,1075.60 273.93,1077.65 276.03,1079.68 278.13,1081.69 280.24,1083.68 282.34,1085.64 284.44,1087.57 286.54,1089.48 288.64,1091.35 290.74,1093.20 292.84,1095.01 294.94,1096.78 297.04,1098.53 299.14,1100.23 301.24,1101.90 303.34,1103.53 305.45,1105.12 307.55,1106.68 309.65,1108.19 311.75,1109.67 313.85,1111.11 315.95,1112.50 318.05,1113.86 320.15,1115.18 322.25,1116.46 324.35,1117.70 326.45,1118.90 328.55,1120.06 330.66,1121.18 332.76,1122.27 334.86,1123.32 336.96,1124.34 339.06,1125.32 341.16,1126.27 343.26,1127.18 345.36,1128.06 347.46,1128.90 349.56,1129.72 351.66,1130.50 353.76,1131.26 355.87,1131.98 357.97,1132.68 360.07,1133.35 362.17,1133.99 364.27,1134.61 366.37,1135.21 368.47,1135.77 370.57,1136.32 372.67,1136.84 374.77,1137.35 376.87,1137.83 378.97,1138.29 381.08,1138.73 383.18,1139.15 385.28,1139.56 387.38,1139.94 389.48,1140.31 391.58,1140.67 393.68,1141.01 395.78,1141.33 397.88,1141.64 399.98,1141.94 402.08,1142.22 404.18,1142.49 406.29,1142.75 408.39,1143.00 410.49,1143.23 412.59,1143.46 414.69,1143.67 416.79,1143.88 418.89,1144.08 420.99,1144.26 423.09,1144.44 425.19,1144.61 427.29,1144.78 429.39,1144.93 431.50,1145.08 433.60,1145.22 435.70,1145.36 437.80,1145.49 439.90,1145.61 442.00,1145.73" fill="none" stroke="#3a309a" stroke-width="2.7" stroke-linejoin="round"/>
<polyline points="192.00,1006.69 194.10,1007.68 196.20,1008.70 198.30,1009.72 200.40,1010.76 202.50,1011.81 204.61,1012.87 206.71,1013.95 208.81,1015.04 210.91,1016.14 213.01,1017.25 215.11,1018.37 217.21,1019.51 219.31,1020.66 221.41,1021.81 223.51,1022.98 225.61,1024.16 227.71,1025.35 229.82,1026.54 231.92,1027.75 234.02,1028.96 236.12,1030.18 238.22,1031.41 240.32,1032.64 242.42,1033.89 244.52,1035.13 246.62,1036.39 248.72,1037.64 250.82,1038.90 252.92,1040.17 255.03,1041.44 257.13,1042.71 259.23,1043.98 261.33,1045.26 263.43,1046.53 265.53,1047.81 267.63,1049.09 269.73,1050.36 271.83,1051.64 273.93,1052.91 276.03,1054.18 278.13,1055.45 280.24,1056.71 282.34,1057.97 284.44,1059.23 286.54,1060.48 288.64,1061.73 290.74,1062.97 292.84,1064.20 294.94,1065.43 297.04,1066.64 299.14,1067.86 301.24,1069.06 303.34,1070.25 305.45,1071.44 307.55,1072.61 309.65,1073.78 311.75,1074.93 313.85,1076.07 315.95,1077.21 318.05,1078.33 320.15,1079.44 322.25,1080.54 324.35,1081.62 326.45,1082.70 328.55,1083.76 330.66,1084.80 332.76,1085.84 334.86,1086.86 336.96,1087.86 339.06,1088.86 341.16,1089.84 343.26,1090.80 345.36,1091.75 347.46,1092.69 349.56,1093.61 351.66,1094.52 353.76,1095.42 355.87,1096.29 357.97,1097.16 360.07,1098.01 362.17,1098.85 364.27,1099.67 366.37,1100.47 368.47,1101.27 370.57,1102.04 372.67,1102.81 374.77,1103.56 376.87,1104.29 378.97,1105.01 381.08,1105.72 383.18,1106.41 385.28,1107.09 387.38,1107.76 389.48,1108.41 391.58,1109.05 393.68,1109.68 395.78,1110.29 397.88,1110.89 399.98,1111.48 402.08,1112.05 404.18,1112.61 406.29,1113.16 408.39,1113.70 410.49,1114.22 412.59,1114.74 414.69,1115.24 416.79,1115.73 418.89,1116.21 420.99,1116.67 423.09,1117.13 425.19,1117.58 427.29,1118.01 429.39,1118.44 431.50,1118.85 433.60,1119.26 435.70,1119.65 437.80,1120.04 439.90,1120.42 442.00,1120.78" fill="none" stroke="#000000" stroke-width="2.7" stroke-linejoin="round"/>
<path d="M664.1,919.28 H672.7 V1219.6 H972.7 V1228.2" fill="none" stroke="#000" stroke-width="3.0" stroke-linejoin="miter"/>
<line x1="664.1" y1="1219.6" x2="672.7" y2="1219.6" stroke="#000" stroke-width="3.0" stroke-linecap="butt"/>
<text x="662.3" y="1229.2" font-size="24.0" text-anchor="end">-0.4</text>
<line x1="664.1" y1="1182.06" x2="672.7" y2="1182.06" stroke="#000" stroke-width="3.0" stroke-linecap="butt"/>
<text x="662.3" y="1191.66" font-size="24.0" text-anchor="end">-0.2</text>
<line x1="664.1" y1="1144.52" x2="672.7" y2="1144.52" stroke="#000" stroke-width="3.0" stroke-linecap="butt"/>
<text x="662.3" y="1154.12" font-size="24.0" text-anchor="end">0.0</text>
<line x1="664.1" y1="1106.98" x2="672.7" y2="1106.98" stroke="#000" stroke-width="3.0" stroke-linecap="butt"/>
<text x="662.3" y="1116.58" font-size="24.0" text-anchor="end">0.2</text>
<line x1="664.1" y1="1069.44" x2="672.7" y2="1069.44" stroke="#000" stroke-width="3.0" stroke-linecap="butt"/>
<text x="662.3" y="1079.04" font-size="24.0" text-anchor="end">0.4</text>
<line x1="664.1" y1="1031.9" x2="672.7" y2="1031.9" stroke="#000" stroke-width="3.0" stroke-linecap="butt"/>
<text x="662.3" y="1041.5" font-size="24.0" text-anchor="end">0.6</text>
<line x1="664.1" y1="994.36" x2="672.7" y2="994.36" stroke="#000" stroke-width="3.0" stroke-linecap="butt"/>
<text x="662.3" y="1003.96" font-size="24.0" text-anchor="end">0.8</text>
<line x1="664.1" y1="956.82" x2="672.7" y2="956.82" stroke="#000" stroke-width="3.0" stroke-linecap="butt"/>
<text x="662.3" y="966.42" font-size="24.0" text-anchor="end">1.0</text>
<text x="662.3" y="928.88" font-size="24.0" text-anchor="end">1.2</text>
<line x1="672.7" y1="1219.6" x2="672.7" y2="1228.2" stroke="#000" stroke-width="3.0" stroke-linecap="butt"/>
<text x="674.6" y="1257.1" font-size="24.0" text-anchor="middle">-2</text>
<line x1="747.7" y1="1219.6" x2="747.7" y2="1228.2" stroke="#000" stroke-width="3.0" stroke-linecap="butt"/>
<text x="749.6" y="1257.1" font-size="24.0" text-anchor="middle">-1</text>
<line x1="822.7" y1="1219.6" x2="822.7" y2="1228.2" stroke="#000" stroke-width="3.0" stroke-linecap="butt"/>
<text x="824.6" y="1257.1" font-size="24.0" text-anchor="middle">0</text>
<line x1="897.7" y1="1219.6" x2="897.7" y2="1228.2" stroke="#000" stroke-width="3.0" stroke-linecap="butt"/>
<text x="899.6" y="1257.1" font-size="24.0" text-anchor="middle">1</text>
<text x="974.6" y="1257.1" font-size="24.0" text-anchor="middle">2</text>
<text x="601.6" y="1053.4" font-size="23.9" text-anchor="middle" transform="rotate(-90 601.6 1053.4)">relative activity</text>
<text x="680" y="1285.7" font-size="23.9" text-anchor="start">log conc. CGP070667 [µM]</text>
<line x1="671.8" y1="1144.52" x2="973.7" y2="1144.52" stroke="#000" stroke-width="5.4" stroke-linecap="round" stroke-dasharray="0 9.03"/>
<path d="M682.98,1040.5 V1086.5 M677.18,1040.5 H688.77 M677.18,1086.5 H688.77" stroke="#000" stroke-width="2.6" fill="none"/>
<path d="M718.75,1056.1 V1084.1 M712.95,1056.1 H724.55 M712.95,1084.1 H724.55" stroke="#000" stroke-width="2.6" fill="none"/>
<path d="M754.6,1072.5 V1142.5 M748.8,1072.5 H760.4 M748.8,1142.5 H760.4" stroke="#000" stroke-width="2.6" fill="none"/>
<path d="M826.15,1138.8 V1160.8 M820.35,1138.8 H831.95 M820.35,1160.8 H831.95" stroke="#000" stroke-width="2.6" fill="none"/>
<circle cx="682.98" cy="1063.5" r="5.85" fill="#e53424" stroke="#000" stroke-width="2.8"/>
<circle cx="718.75" cy="1070.1" r="5.85" fill="#e53424" stroke="#000" stroke-width="2.8"/>
<circle cx="754.6" cy="1107.5" r="5.85" fill="#e53424" stroke="#000" stroke-width="2.8"/>
<circle cx="790.38" cy="1136.7" r="5.85" fill="#e53424" stroke="#000" stroke-width="2.8"/>
<circle cx="826.15" cy="1149.8" r="5.85" fill="#e53424" stroke="#000" stroke-width="2.8"/>
<circle cx="861.93" cy="1147" r="5.85" fill="#e53424" stroke="#000" stroke-width="2.8"/>
<circle cx="897.7" cy="1145" r="5.85" fill="#e53424" stroke="#000" stroke-width="2.8"/>
<circle cx="933.48" cy="1146" r="5.85" fill="#e53424" stroke="#000" stroke-width="2.8"/>
<path d="M682.98,1035.5 V1053.5 M677.18,1035.5 H688.77 M677.18,1053.5 H688.77" stroke="#000" stroke-width="2.6" fill="none"/>
<path d="M718.75,1055.2 V1073.2 M712.95,1055.2 H724.55 M712.95,1073.2 H724.55" stroke="#000" stroke-width="2.6" fill="none"/>
<path d="M790.38,1115.7 V1149.7 M784.58,1115.7 H796.17 M784.58,1149.7 H796.17" stroke="#000" stroke-width="2.6" fill="none"/>
<path d="M826.15,1107.2 V1133.2 M820.35,1107.2 H831.95 M820.35,1133.2 H831.95" stroke="#000" stroke-width="2.6" fill="none"/>
<path d="M861.93,1134.4 V1156.4 M856.13,1134.4 H867.73 M856.13,1156.4 H867.73" stroke="#000" stroke-width="2.6" fill="none"/>
<path d="M897.7,1135 V1155 M891.9,1135 H903.5 M891.9,1155 H903.5" stroke="#000" stroke-width="2.6" fill="none"/>
<circle cx="682.98" cy="1044.5" r="5.85" fill="#2bb920" stroke="#000" stroke-width="2.8"/>
<circle cx="718.75" cy="1064.2" r="5.85" fill="#2bb920" stroke="#000" stroke-width="2.8"/>
<circle cx="754.6" cy="1069" r="5.85" fill="#2bb920" stroke="#000" stroke-width="2.8"/>
<circle cx="790.38" cy="1132.7" r="5.85" fill="#2bb920" stroke="#000" stroke-width="2.8"/>
<circle cx="826.15" cy="1120.2" r="5.85" fill="#2bb920" stroke="#000" stroke-width="2.8"/>
<circle cx="861.93" cy="1145.4" r="5.85" fill="#2bb920" stroke="#000" stroke-width="2.8"/>
<circle cx="897.7" cy="1145" r="5.85" fill="#2bb920" stroke="#000" stroke-width="2.8"/>
<circle cx="933.48" cy="1146" r="5.85" fill="#2bb920" stroke="#000" stroke-width="2.8"/>
<path d="M682.98,1007.2 V1027.2 M677.18,1007.2 H688.77 M677.18,1027.2 H688.77" stroke="#000" stroke-width="2.6" fill="none"/>
<path d="M718.75,1031.6 V1061.6 M712.95,1031.6 H724.55 M712.95,1061.6 H724.55" stroke="#000" stroke-width="2.6" fill="none"/>
<path d="M754.6,1047.3 V1091.3 M748.8,1047.3 H760.4 M748.8,1091.3 H760.4" stroke="#000" stroke-width="2.6" fill="none"/>
<path d="M790.38,1078.5 V1118.5 M784.58,1078.5 H796.17 M784.58,1118.5 H796.17" stroke="#000" stroke-width="2.6" fill="none"/>
<path d="M826.15,1085.3 V1119.3 M820.35,1085.3 H831.95 M820.35,1119.3 H831.95" stroke="#000" stroke-width="2.6" fill="none"/>
<path d="M861.93,1106.7 V1126.7 M856.13,1106.7 H867.73 M856.13,1126.7 H867.73" stroke="#000" stroke-width="2.6" fill="none"/>
<circle cx="682.98" cy="1017.2" r="5.85" fill="#4a54ba" stroke="#000" stroke-width="2.8"/>
<circle cx="718.75" cy="1046.6" r="5.85" fill="#4a54ba" stroke="#000" stroke-width="2.8"/>
<circle cx="754.6" cy="1069.3" r="5.85" fill="#4a54ba" stroke="#000" stroke-width="2.8"/>
<circle cx="790.38" cy="1098.5" r="5.85" fill="#4a54ba" stroke="#000" stroke-width="2.8"/>
<circle cx="826.15" cy="1102.3" r="5.85" fill="#4a54ba" stroke="#000" stroke-width="2.8"/>
<circle cx="861.93" cy="1116.7" r="5.85" fill="#4a54ba" stroke="#000" stroke-width="2.8"/>
<circle cx="897.7" cy="1125.9" r="5.85" fill="#4a54ba" stroke="#000" stroke-width="2.8"/>
<circle cx="933.48" cy="1137.8" r="5.85" fill="#4a54ba" stroke="#000" stroke-width="2.8"/>
<path d="M682.98,968.5 V982.5 M677.18,968.5 H688.77 M677.18,982.5 H688.77" stroke="#000" stroke-width="2.6" fill="none"/>
<path d="M754.6,1016.4 V1029.6 M748.8,1016.4 H760.4 M748.8,1029.6 H760.4" stroke="#000" stroke-width="2.6" fill="none"/>
<path d="M790.38,1064.7 V1081.9 M784.58,1064.7 H796.17 M784.58,1081.9 H796.17" stroke="#000" stroke-width="2.6" fill="none"/>
<circle cx="682.98" cy="975.5" r="5.85" fill="#000000" stroke="#000" stroke-width="2.8"/>
<circle cx="718.75" cy="992" r="5.85" fill="#000000" stroke="#000" stroke-width="2.8"/>
<circle cx="754.6" cy="1023" r="5.85" fill="#000000" stroke="#000" stroke-width="2.8"/>
<circle cx="790.38" cy="1073.3" r="5.85" fill="#000000" stroke="#000" stroke-width="2.8"/>
<circle cx="826.15" cy="1111.1" r="5.85" fill="#000000" stroke="#000" stroke-width="2.8"/>
<circle cx="861.93" cy="1129.9" r="5.85" fill="#000000" stroke="#000" stroke-width="2.8"/>
<circle cx="897.7" cy="1135.2" r="5.85" fill="#000000" stroke="#000" stroke-width="2.8"/>
<circle cx="933.48" cy="1141.4" r="5.85" fill="#000000" stroke="#000" stroke-width="2.8"/>
<polyline points="683.50,1055.06 685.60,1056.71 687.70,1058.39 689.80,1060.09 691.90,1061.80 694.00,1063.52 696.11,1065.26 698.21,1067.01 700.31,1068.77 702.41,1070.54 704.51,1072.31 706.61,1074.08 708.71,1075.86 710.81,1077.63 712.91,1079.40 715.01,1081.17 717.11,1082.93 719.21,1084.68 721.32,1086.43 723.42,1088.16 725.52,1089.87 727.62,1091.57 729.72,1093.26 731.82,1094.92 733.92,1096.56 736.02,1098.19 738.12,1099.78 740.22,1101.36 742.32,1102.91 744.42,1104.43 746.53,1105.93 748.63,1107.39 750.73,1108.83 752.83,1110.24 754.93,1111.61 757.03,1112.96 759.13,1114.28 761.23,1115.56 763.33,1116.81 765.43,1118.03 767.53,1119.21 769.63,1120.37 771.74,1121.49 773.84,1122.58 775.94,1123.64 778.04,1124.67 780.14,1125.66 782.24,1126.63 784.34,1127.56 786.44,1128.47 788.54,1129.34 790.64,1130.19 792.74,1131.00 794.84,1131.79 796.95,1132.55 799.05,1133.29 801.15,1134.00 803.25,1134.68 805.35,1135.34 807.45,1135.97 809.55,1136.58 811.65,1137.17 813.75,1137.73 815.85,1138.27 817.95,1138.80 820.05,1139.30 822.16,1139.78 824.26,1140.24 826.36,1140.69 828.46,1141.11 830.56,1141.52 832.66,1141.92 834.76,1142.29 836.86,1142.65 838.96,1143.00 841.06,1143.33 843.16,1143.65 845.26,1143.95 847.37,1144.25 849.47,1144.53 851.57,1144.79 853.67,1145.05 855.77,1145.29 857.87,1145.53 859.97,1145.75 862.07,1145.97 864.17,1146.17 866.27,1146.37 868.37,1146.56 870.47,1146.74 872.58,1146.91 874.68,1147.08 876.78,1147.23 878.88,1147.38 880.98,1147.53 883.08,1147.67 885.18,1147.80 887.28,1147.92 889.38,1148.04 891.48,1148.16 893.58,1148.27 895.68,1148.37 897.79,1148.47 899.89,1148.57 901.99,1148.66 904.09,1148.74 906.19,1148.83 908.29,1148.91 910.39,1148.98 912.49,1149.05 914.59,1149.12 916.69,1149.19 918.79,1149.25 920.89,1149.31 923.00,1149.37 925.10,1149.42 927.20,1149.48 929.30,1149.53 931.40,1149.57 933.50,1149.62" fill="none" stroke="#dc3a2c" stroke-width="2.7" stroke-linejoin="round"/>
<polyline points="683.50,1040.22 685.60,1041.63 687.70,1043.06 689.80,1044.50 691.90,1045.96 694.00,1047.42 696.11,1048.90 698.21,1050.39 700.31,1051.89 702.41,1053.40 704.51,1054.92 706.61,1056.44 708.71,1057.97 710.81,1059.50 712.91,1061.04 715.01,1062.58 717.11,1064.13 719.21,1065.67 721.32,1067.22 723.42,1068.77 725.52,1070.31 727.62,1071.85 729.72,1073.39 731.82,1074.92 733.92,1076.44 736.02,1077.96 738.12,1079.48 740.22,1080.98 742.32,1082.47 744.42,1083.96 746.53,1085.43 748.63,1086.89 750.73,1088.34 752.83,1089.77 754.93,1091.19 757.03,1092.60 759.13,1093.99 761.23,1095.36 763.33,1096.72 765.43,1098.06 767.53,1099.38 769.63,1100.68 771.74,1101.96 773.84,1103.23 775.94,1104.47 778.04,1105.70 780.14,1106.90 782.24,1108.09 784.34,1109.25 786.44,1110.39 788.54,1111.51 790.64,1112.61 792.74,1113.69 794.84,1114.75 796.95,1115.79 799.05,1116.80 801.15,1117.79 803.25,1118.77 805.35,1119.72 807.45,1120.64 809.55,1121.55 811.65,1122.44 813.75,1123.31 815.85,1124.15 817.95,1124.98 820.05,1125.78 822.16,1126.57 824.26,1127.33 826.36,1128.08 828.46,1128.80 830.56,1129.51 832.66,1130.20 834.76,1130.87 836.86,1131.52 838.96,1132.16 841.06,1132.77 843.16,1133.37 845.26,1133.96 847.37,1134.53 849.47,1135.08 851.57,1135.61 853.67,1136.13 855.77,1136.64 857.87,1137.13 859.97,1137.60 862.07,1138.06 864.17,1138.51 866.27,1138.94 868.37,1139.36 870.47,1139.77 872.58,1140.17 874.68,1140.55 876.78,1140.92 878.88,1141.28 880.98,1141.63 883.08,1141.97 885.18,1142.30 887.28,1142.61 889.38,1142.92 891.48,1143.22 893.58,1143.51 895.68,1143.79 897.79,1144.05 899.89,1144.32 901.99,1144.57 904.09,1144.81 906.19,1145.05 908.29,1145.28 910.39,1145.50 912.49,1145.71 914.59,1145.92 916.69,1146.12 918.79,1146.31 920.89,1146.50 923.00,1146.68 925.10,1146.85 927.20,1147.02 929.30,1147.18 931.40,1147.34 933.50,1147.49" fill="none" stroke="#38ae29" stroke-width="2.7" stroke-linejoin="round"/>
<polyline points="683.50,1020.87 685.60,1022.36 687.70,1023.85 689.80,1025.35 691.90,1026.85 694.00,1028.35 696.11,1029.86 698.21,1031.37 700.31,1032.88 702.41,1034.39 704.51,1035.90 706.61,1037.41 708.71,1038.92 710.81,1040.43 712.91,1041.94 715.01,1043.44 717.11,1044.94 719.21,1046.43 721.32,1047.92 723.42,1049.41 725.52,1050.89 727.62,1052.37 729.72,1053.83 731.82,1055.29 733.92,1056.75 736.02,1058.19 738.12,1059.63 740.22,1061.05 742.32,1062.47 744.42,1063.88 746.53,1065.27 748.63,1066.66 750.73,1068.03 752.83,1069.40 754.93,1070.75 757.03,1072.09 759.13,1073.41 761.23,1074.72 763.33,1076.02 765.43,1077.31 767.53,1078.58 769.63,1079.84 771.74,1081.08 773.84,1082.31 775.94,1083.52 778.04,1084.72 780.14,1085.90 782.24,1087.07 784.34,1088.22 786.44,1089.36 788.54,1090.48 790.64,1091.58 792.74,1092.67 794.84,1093.74 796.95,1094.80 799.05,1095.84 801.15,1096.86 803.25,1097.87 805.35,1098.86 807.45,1099.83 809.55,1100.79 811.65,1101.74 813.75,1102.66 815.85,1103.57 817.95,1104.47 820.05,1105.35 822.16,1106.21 824.26,1107.06 826.36,1107.89 828.46,1108.71 830.56,1109.51 832.66,1110.29 834.76,1111.07 836.86,1111.82 838.96,1112.56 841.06,1113.29 843.16,1114.00 845.26,1114.70 847.37,1115.38 849.47,1116.05 851.57,1116.71 853.67,1117.35 855.77,1117.98 857.87,1118.59 859.97,1119.20 862.07,1119.78 864.17,1120.36 866.27,1120.92 868.37,1121.48 870.47,1122.02 872.58,1122.54 874.68,1123.06 876.78,1123.56 878.88,1124.06 880.98,1124.54 883.08,1125.01 885.18,1125.47 887.28,1125.92 889.38,1126.36 891.48,1126.79 893.58,1127.21 895.68,1127.61 897.79,1128.01 899.89,1128.40 901.99,1128.78 904.09,1129.16 906.19,1129.52 908.29,1129.87 910.39,1130.22 912.49,1130.56 914.59,1130.88 916.69,1131.21 918.79,1131.52 920.89,1131.82 923.00,1132.12 925.10,1132.41 927.20,1132.70 929.30,1132.97 931.40,1133.24 933.50,1133.50" fill="none" stroke="#3a309a" stroke-width="2.7" stroke-linejoin="round"/>
<polyline points="683.50,972.78 685.60,973.46 687.70,974.18 689.80,974.95 691.90,975.75 694.00,976.60 696.11,977.50 698.21,978.44 700.31,979.44 702.41,980.48 704.51,981.58 706.61,982.74 708.71,983.95 710.81,985.22 712.91,986.56 715.01,987.95 717.11,989.41 719.21,990.94 721.32,992.53 723.42,994.19 725.52,995.92 727.62,997.71 729.72,999.58 731.82,1001.52 733.92,1003.52 736.02,1005.60 738.12,1007.74 740.22,1009.95 742.32,1012.23 744.42,1014.57 746.53,1016.98 748.63,1019.44 750.73,1021.96 752.83,1024.54 754.93,1027.16 757.03,1029.83 759.13,1032.55 761.23,1035.29 763.33,1038.08 765.43,1040.88 767.53,1043.71 769.63,1046.56 771.74,1049.42 773.84,1052.28 775.94,1055.14 778.04,1058.00 780.14,1060.84 782.24,1063.67 784.34,1066.47 786.44,1069.25 788.54,1071.99 790.64,1074.69 792.74,1077.35 794.84,1079.96 796.95,1082.52 799.05,1085.03 801.15,1087.48 803.25,1089.87 805.35,1092.20 807.45,1094.46 809.55,1096.66 811.65,1098.78 813.75,1100.84 815.85,1102.83 817.95,1104.75 820.05,1106.60 822.16,1108.38 824.26,1110.10 826.36,1111.74 828.46,1113.31 830.56,1114.82 832.66,1116.27 834.76,1117.65 836.86,1118.97 838.96,1120.22 841.06,1121.42 843.16,1122.57 845.26,1123.65 847.37,1124.69 849.47,1125.67 851.57,1126.60 853.67,1127.49 855.77,1128.32 857.87,1129.12 859.97,1129.87 862.07,1130.59 864.17,1131.26 866.27,1131.90 868.37,1132.51 870.47,1133.08 872.58,1133.62 874.68,1134.12 876.78,1134.60 878.88,1135.06 880.98,1135.49 883.08,1135.89 885.18,1136.27 887.28,1136.63 889.38,1136.97 891.48,1137.28 893.58,1137.58 895.68,1137.87 897.79,1138.13 899.89,1138.38 901.99,1138.62 904.09,1138.84 906.19,1139.05 908.29,1139.24 910.39,1139.43 912.49,1139.60 914.59,1139.77 916.69,1139.92 918.79,1140.06 920.89,1140.20 923.00,1140.33 925.10,1140.45 927.20,1140.56 929.30,1140.66 931.40,1140.76 933.50,1140.86" fill="none" stroke="#000000" stroke-width="2.7" stroke-linejoin="round"/>
<path d="M1165.9,918.13 H1174.5 V1218.45 H1474.5 V1227.05" fill="none" stroke="#000" stroke-width="3.0" stroke-linejoin="miter"/>
<line x1="1165.9" y1="1218.45" x2="1174.5" y2="1218.45" stroke="#000" stroke-width="3.0" stroke-linecap="butt"/>
<text x="1161.9" y="1227.05" font-size="24.0" text-anchor="end">-0.4</text>
<line x1="1165.9" y1="1180.91" x2="1174.5" y2="1180.91" stroke="#000" stroke-width="3.0" stroke-linecap="butt"/>
<text x="1161.9" y="1189.51" font-size="24.0" text-anchor="end">-0.2</text>
<line x1="1165.9" y1="1143.37" x2="1174.5" y2="1143.37" stroke="#000" stroke-width="3.0" stroke-linecap="butt"/>
<text x="1161.9" y="1151.97" font-size="24.0" text-anchor="end">0.0</text>
<line x1="1165.9" y1="1105.83" x2="1174.5" y2="1105.83" stroke="#000" stroke-width="3.0" stroke-linecap="butt"/>
<text x="1161.9" y="1114.43" font-size="24.0" text-anchor="end">0.2</text>
<line x1="1165.9" y1="1068.29" x2="1174.5" y2="1068.29" stroke="#000" stroke-width="3.0" stroke-linecap="butt"/>
<text x="1161.9" y="1076.89" font-size="24.0" text-anchor="end">0.4</text>
<line x1="1165.9" y1="1030.75" x2="1174.5" y2="1030.75" stroke="#000" stroke-width="3.0" stroke-linecap="butt"/>
<text x="1161.9" y="1039.35" font-size="24.0" text-anchor="end">0.6</text>
<line x1="1165.9" y1="993.21" x2="1174.5" y2="993.21" stroke="#000" stroke-width="3.0" stroke-linecap="butt"/>
<text x="1161.9" y="1001.81" font-size="24.0" text-anchor="end">0.8</text>
<line x1="1165.9" y1="955.67" x2="1174.5" y2="955.67" stroke="#000" stroke-width="3.0" stroke-linecap="butt"/>
<text x="1161.9" y="964.27" font-size="24.0" text-anchor="end">1.0</text>
<text x="1161.9" y="926.73" font-size="24.0" text-anchor="end">1.2</text>
<line x1="1174.5" y1="1218.45" x2="1174.5" y2="1227.05" stroke="#000" stroke-width="3.0" stroke-linecap="butt"/>
<text x="1174.1" y="1254.15" font-size="24.0" text-anchor="middle">-2</text>
<line x1="1249.5" y1="1218.45" x2="1249.5" y2="1227.05" stroke="#000" stroke-width="3.0" stroke-linecap="butt"/>
<text x="1249.1" y="1254.15" font-size="24.0" text-anchor="middle">-1</text>
<line x1="1324.5" y1="1218.45" x2="1324.5" y2="1227.05" stroke="#000" stroke-width="3.0" stroke-linecap="butt"/>
<text x="1324.1" y="1254.15" font-size="24.0" text-anchor="middle">0</text>
<line x1="1399.5" y1="1218.45" x2="1399.5" y2="1227.05" stroke="#000" stroke-width="3.0" stroke-linecap="butt"/>
<text x="1399.1" y="1254.15" font-size="24.0" text-anchor="middle">1</text>
<text x="1474.1" y="1254.15" font-size="24.0" text-anchor="middle">2</text>
<text x="1105.8" y="1053.5" font-size="23.9" text-anchor="middle" transform="rotate(-90 1105.8 1053.5)">relative activity</text>
<text x="1213.6" y="1285.7" font-size="23.9" text-anchor="start">log conc. MK801 [µM]</text>
<line x1="1173.6" y1="1143.37" x2="1475.5" y2="1143.37" stroke="#000" stroke-width="5.4" stroke-linecap="round" stroke-dasharray="0 9.03"/>
<path d="M1184.78,1009.1 V1027.1 M1178.98,1009.1 H1190.58 M1178.98,1027.1 H1190.58" stroke="#000" stroke-width="2.6" fill="none"/>
<path d="M1292.17,1064.1 V1098.9 M1286.38,1064.1 H1297.97 M1286.38,1098.9 H1297.97" stroke="#000" stroke-width="2.6" fill="none"/>
<path d="M1327.95,1071.7 V1117.7 M1322.15,1071.7 H1333.75 M1322.15,1117.7 H1333.75" stroke="#000" stroke-width="2.6" fill="none"/>
<path d="M1363.72,1109.4 V1143.4 M1357.92,1109.4 H1369.52 M1357.92,1143.4 H1369.52" stroke="#000" stroke-width="2.6" fill="none"/>
<circle cx="1184.78" cy="1018.1" r="5.85" fill="#e53424" stroke="#000" stroke-width="2.8"/>
<circle cx="1220.55" cy="1025.5" r="5.85" fill="#e53424" stroke="#000" stroke-width="2.8"/>
<circle cx="1256.4" cy="1055.1" r="5.85" fill="#e53424" stroke="#000" stroke-width="2.8"/>
<circle cx="1292.17" cy="1081.5" r="5.85" fill="#e53424" stroke="#000" stroke-width="2.8"/>
<circle cx="1327.95" cy="1094.7" r="5.85" fill="#e53424" stroke="#000" stroke-width="2.8"/>
<circle cx="1363.72" cy="1126.4" r="5.85" fill="#e53424" stroke="#000" stroke-width="2.8"/>
<circle cx="1399.5" cy="1134.3" r="5.85" fill="#e53424" stroke="#000" stroke-width="2.8"/>
<circle cx="1435.28" cy="1137.8" r="5.85" fill="#e53424" stroke="#000" stroke-width="2.8"/>
<circle cx="1184.78" cy="1035.7" r="5.85" fill="#2bb920" stroke="#000" stroke-width="2.8"/>
<circle cx="1220.55" cy="1055.1" r="5.85" fill="#2bb920" stroke="#000" stroke-width="2.8"/>
<circle cx="1256.4" cy="1086.8" r="5.85" fill="#2bb920" stroke="#000" stroke-width="2.8"/>
<circle cx="1292.17" cy="1128.2" r="5.85" fill="#2bb920" stroke="#000" stroke-width="2.8"/>
<circle cx="1327.95" cy="1153.3" r="5.85" fill="#2bb920" stroke="#000" stroke-width="2.8"/>
<circle cx="1363.72" cy="1154.6" r="5.85" fill="#2bb920" stroke="#000" stroke-width="2.8"/>
<circle cx="1399.5" cy="1148.4" r="5.85" fill="#2bb920" stroke="#000" stroke-width="2.8"/>
<circle cx="1435.28" cy="1150.2" r="5.85" fill="#2bb920" stroke="#000" stroke-width="2.8"/>
<circle cx="1184.78" cy="997" r="5.85" fill="#4a54ba" stroke="#000" stroke-width="2.8"/>
<circle cx="1220.55" cy="1042.4" r="5.85" fill="#4a54ba" stroke="#000" stroke-width="2.8"/>
<circle cx="1256.4" cy="1083.3" r="5.85" fill="#4a54ba" stroke="#000" stroke-width="2.8"/>
<circle cx="1292.17" cy="1123.8" r="5.85" fill="#4a54ba" stroke="#000" stroke-width="2.8"/>
<circle cx="1327.95" cy="1139.6" r="5.85" fill="#4a54ba" stroke="#000" stroke-width="2.8"/>
<circle cx="1363.72" cy="1148.4" r="5.85" fill="#4a54ba" stroke="#000" stroke-width="2.8"/>
<circle cx="1399.5" cy="1146.7" r="5.85" fill="#4a54ba" stroke="#000" stroke-width="2.8"/>
<circle cx="1435.28" cy="1148.4" r="5.85" fill="#4a54ba" stroke="#000" stroke-width="2.8"/>
<path d="M1184.78,971.2 V1005.2 M1178.98,971.2 H1190.58 M1178.98,1005.2 H1190.58" stroke="#000" stroke-width="2.6" fill="none"/>
<path d="M1220.55,985.1 V1027.1 M1214.75,985.1 H1226.35 M1214.75,1027.1 H1226.35" stroke="#000" stroke-width="2.6" fill="none"/>
<path d="M1256.4,1041.6 V1075.6 M1250.6,1041.6 H1262.2 M1250.6,1075.6 H1262.2" stroke="#000" stroke-width="2.6" fill="none"/>
<path d="M1327.95,1089.5 V1117.5 M1322.15,1089.5 H1333.75 M1322.15,1117.5 H1333.75" stroke="#000" stroke-width="2.6" fill="none"/>
<path d="M1363.72,1113.6 V1135.6 M1357.92,1113.6 H1369.52 M1357.92,1135.6 H1369.52" stroke="#000" stroke-width="2.6" fill="none"/>
<path d="M1435.28,1143.2 V1157.2 M1429.48,1143.2 H1441.08 M1429.48,1157.2 H1441.08" stroke="#000" stroke-width="2.6" fill="none"/>
<circle cx="1184.78" cy="988.2" r="5.85" fill="#000000" stroke="#000" stroke-width="2.8"/>
<circle cx="1220.55" cy="1006.1" r="5.85" fill="#000000" stroke="#000" stroke-width="2.8"/>
<circle cx="1256.4" cy="1058.6" r="5.85" fill="#000000" stroke="#000" stroke-width="2.8"/>
<circle cx="1292.17" cy="1086.8" r="5.85" fill="#000000" stroke="#000" stroke-width="2.8"/>
<circle cx="1327.95" cy="1103.5" r="5.85" fill="#000000" stroke="#000" stroke-width="2.8"/>
<circle cx="1363.72" cy="1124.6" r="5.85" fill="#000000" stroke="#000" stroke-width="2.8"/>
<circle cx="1399.5" cy="1135.2" r="5.85" fill="#000000" stroke="#000" stroke-width="2.8"/>
<circle cx="1435.28" cy="1150.2" r="5.85" fill="#000000" stroke="#000" stroke-width="2.8"/>
<polyline points="1185.30,1012.15 1187.40,1013.12 1189.50,1014.11 1191.60,1015.11 1193.70,1016.14 1195.80,1017.17 1197.91,1018.23 1200.01,1019.30 1202.11,1020.39 1204.21,1021.50 1206.31,1022.62 1208.41,1023.76 1210.51,1024.91 1212.61,1026.08 1214.71,1027.27 1216.81,1028.47 1218.91,1029.68 1221.01,1030.91 1223.12,1032.15 1225.22,1033.41 1227.32,1034.68 1229.42,1035.97 1231.52,1037.26 1233.62,1038.57 1235.72,1039.89 1237.82,1041.22 1239.92,1042.56 1242.02,1043.91 1244.12,1045.27 1246.22,1046.64 1248.33,1048.02 1250.43,1049.41 1252.53,1050.80 1254.63,1052.20 1256.73,1053.60 1258.83,1055.01 1260.93,1056.43 1263.03,1057.84 1265.13,1059.26 1267.23,1060.69 1269.33,1062.11 1271.43,1063.54 1273.54,1064.96 1275.64,1066.39 1277.74,1067.81 1279.84,1069.23 1281.94,1070.65 1284.04,1072.07 1286.14,1073.48 1288.24,1074.89 1290.34,1076.29 1292.44,1077.69 1294.54,1079.08 1296.64,1080.46 1298.75,1081.84 1300.85,1083.20 1302.95,1084.56 1305.05,1085.91 1307.15,1087.25 1309.25,1088.57 1311.35,1089.89 1313.45,1091.19 1315.55,1092.49 1317.65,1093.77 1319.75,1095.03 1321.85,1096.29 1323.96,1097.52 1326.06,1098.75 1328.16,1099.96 1330.26,1101.15 1332.36,1102.33 1334.46,1103.50 1336.56,1104.65 1338.66,1105.78 1340.76,1106.90 1342.86,1108.00 1344.96,1109.08 1347.06,1110.15 1349.17,1111.20 1351.27,1112.23 1353.37,1113.24 1355.47,1114.24 1357.57,1115.22 1359.67,1116.19 1361.77,1117.14 1363.87,1118.07 1365.97,1118.98 1368.07,1119.87 1370.17,1120.75 1372.27,1121.61 1374.38,1122.46 1376.48,1123.29 1378.58,1124.10 1380.68,1124.89 1382.78,1125.67 1384.88,1126.43 1386.98,1127.17 1389.08,1127.90 1391.18,1128.62 1393.28,1129.31 1395.38,1130.00 1397.48,1130.66 1399.59,1131.31 1401.69,1131.95 1403.79,1132.57 1405.89,1133.18 1407.99,1133.77 1410.09,1134.35 1412.19,1134.91 1414.29,1135.46 1416.39,1136.00 1418.49,1136.53 1420.59,1137.04 1422.69,1137.54 1424.80,1138.02 1426.90,1138.50 1429.00,1138.96 1431.10,1139.41 1433.20,1139.85 1435.30,1140.27" fill="none" stroke="#dc3a2c" stroke-width="2.7" stroke-linejoin="round"/>
<polyline points="1185.30,1027.44 1187.40,1029.17 1189.50,1030.94 1191.60,1032.74 1193.70,1034.58 1195.80,1036.45 1197.91,1038.36 1200.01,1040.29 1202.11,1042.25 1204.21,1044.24 1206.31,1046.25 1208.41,1048.29 1210.51,1050.35 1212.61,1052.43 1214.71,1054.52 1216.81,1056.63 1218.91,1058.76 1221.01,1060.89 1223.12,1063.03 1225.22,1065.18 1227.32,1067.33 1229.42,1069.48 1231.52,1071.63 1233.62,1073.78 1235.72,1075.92 1237.82,1078.05 1239.92,1080.17 1242.02,1082.28 1244.12,1084.37 1246.22,1086.44 1248.33,1088.49 1250.43,1090.52 1252.53,1092.53 1254.63,1094.51 1256.73,1096.46 1258.83,1098.39 1260.93,1100.28 1263.03,1102.14 1265.13,1103.97 1267.23,1105.76 1269.33,1107.52 1271.43,1109.25 1273.54,1110.93 1275.64,1112.58 1277.74,1114.19 1279.84,1115.76 1281.94,1117.29 1284.04,1118.78 1286.14,1120.23 1288.24,1121.65 1290.34,1123.02 1292.44,1124.35 1294.54,1125.65 1296.64,1126.91 1298.75,1128.12 1300.85,1129.30 1302.95,1130.45 1305.05,1131.55 1307.15,1132.62 1309.25,1133.65 1311.35,1134.65 1313.45,1135.61 1315.55,1136.54 1317.65,1137.44 1319.75,1138.30 1321.85,1139.14 1323.96,1139.94 1326.06,1140.71 1328.16,1141.45 1330.26,1142.17 1332.36,1142.85 1334.46,1143.52 1336.56,1144.15 1338.66,1144.76 1340.76,1145.35 1342.86,1145.91 1344.96,1146.45 1347.06,1146.96 1349.17,1147.46 1351.27,1147.94 1353.37,1148.39 1355.47,1148.83 1357.57,1149.25 1359.67,1149.65 1361.77,1150.03 1363.87,1150.40 1365.97,1150.75 1368.07,1151.09 1370.17,1151.42 1372.27,1151.72 1374.38,1152.02 1376.48,1152.30 1378.58,1152.57 1380.68,1152.83 1382.78,1153.08 1384.88,1153.32 1386.98,1153.54 1389.08,1153.76 1391.18,1153.96 1393.28,1154.16 1395.38,1154.35 1397.48,1154.53 1399.59,1154.70 1401.69,1154.87 1403.79,1155.02 1405.89,1155.17 1407.99,1155.32 1410.09,1155.45 1412.19,1155.58 1414.29,1155.71 1416.39,1155.83 1418.49,1155.94 1420.59,1156.05 1422.69,1156.15 1424.80,1156.25 1426.90,1156.35 1429.00,1156.44 1431.10,1156.52 1433.20,1156.60 1435.30,1156.68" fill="none" stroke="#38ae29" stroke-width="2.7" stroke-linejoin="round"/>
<polyline points="1185.30,997.54 1187.40,999.25 1189.50,1001.03 1191.60,1002.89 1193.70,1004.83 1195.80,1006.84 1197.91,1008.94 1200.01,1011.10 1202.11,1013.35 1204.21,1015.66 1206.31,1018.05 1208.41,1020.51 1210.51,1023.04 1212.61,1025.64 1214.71,1028.29 1216.81,1031.01 1218.91,1033.78 1221.01,1036.60 1223.12,1039.46 1225.22,1042.36 1227.32,1045.30 1229.42,1048.26 1231.52,1051.24 1233.62,1054.24 1235.72,1057.25 1237.82,1060.26 1239.92,1063.26 1242.02,1066.25 1244.12,1069.23 1246.22,1072.18 1248.33,1075.09 1250.43,1077.98 1252.53,1080.82 1254.63,1083.61 1256.73,1086.36 1258.83,1089.04 1260.93,1091.67 1263.03,1094.23 1265.13,1096.73 1267.23,1099.15 1269.33,1101.51 1271.43,1103.79 1273.54,1105.99 1275.64,1108.12 1277.74,1110.18 1279.84,1112.15 1281.94,1114.05 1284.04,1115.87 1286.14,1117.62 1288.24,1119.30 1290.34,1120.90 1292.44,1122.42 1294.54,1123.88 1296.64,1125.27 1298.75,1126.60 1300.85,1127.85 1302.95,1129.05 1305.05,1130.19 1307.15,1131.26 1309.25,1132.28 1311.35,1133.25 1313.45,1134.17 1315.55,1135.03 1317.65,1135.85 1319.75,1136.62 1321.85,1137.35 1323.96,1138.04 1326.06,1138.69 1328.16,1139.30 1330.26,1139.88 1332.36,1140.42 1334.46,1140.94 1336.56,1141.42 1338.66,1141.87 1340.76,1142.30 1342.86,1142.70 1344.96,1143.08 1347.06,1143.43 1349.17,1143.76 1351.27,1144.08 1353.37,1144.37 1355.47,1144.64 1357.57,1144.90 1359.67,1145.15 1361.77,1145.37 1363.87,1145.59 1365.97,1145.79 1368.07,1145.98 1370.17,1146.15 1372.27,1146.32 1374.38,1146.47 1376.48,1146.62 1378.58,1146.75 1380.68,1146.88 1382.78,1147.00 1384.88,1147.11 1386.98,1147.22 1389.08,1147.32 1391.18,1147.41 1393.28,1147.49 1395.38,1147.58 1397.48,1147.65 1399.59,1147.72 1401.69,1147.79 1403.79,1147.85 1405.89,1147.91 1407.99,1147.96 1410.09,1148.02 1412.19,1148.06 1414.29,1148.11 1416.39,1148.15 1418.49,1148.19 1420.59,1148.23 1422.69,1148.26 1424.80,1148.29 1426.90,1148.32 1429.00,1148.35 1431.10,1148.38 1433.20,1148.40 1435.30,1148.43" fill="none" stroke="#3a309a" stroke-width="2.7" stroke-linejoin="round"/>
<polyline points="1185.30,990.45 1187.40,991.74 1189.50,993.06 1191.60,994.43 1193.70,995.83 1195.80,997.26 1197.91,998.73 1200.01,1000.24 1202.11,1001.78 1204.21,1003.36 1206.31,1004.97 1208.41,1006.62 1210.51,1008.30 1212.61,1010.02 1214.71,1011.76 1216.81,1013.54 1218.91,1015.35 1221.01,1017.19 1223.12,1019.06 1225.22,1020.96 1227.32,1022.88 1229.42,1024.83 1231.52,1026.80 1233.62,1028.80 1235.72,1030.81 1237.82,1032.84 1239.92,1034.89 1242.02,1036.95 1244.12,1039.03 1246.22,1041.12 1248.33,1043.21 1250.43,1045.32 1252.53,1047.43 1254.63,1049.54 1256.73,1051.65 1258.83,1053.76 1260.93,1055.87 1263.03,1057.97 1265.13,1060.07 1267.23,1062.16 1269.33,1064.23 1271.43,1066.29 1273.54,1068.34 1275.64,1070.37 1277.74,1072.38 1279.84,1074.37 1281.94,1076.34 1284.04,1078.28 1286.14,1080.20 1288.24,1082.10 1290.34,1083.96 1292.44,1085.80 1294.54,1087.61 1296.64,1089.38 1298.75,1091.13 1300.85,1092.84 1302.95,1094.52 1305.05,1096.16 1307.15,1097.77 1309.25,1099.34 1311.35,1100.88 1313.45,1102.38 1315.55,1103.85 1317.65,1105.28 1319.75,1106.68 1321.85,1108.03 1323.96,1109.36 1326.06,1110.64 1328.16,1111.90 1330.26,1113.11 1332.36,1114.29 1334.46,1115.44 1336.56,1116.55 1338.66,1117.63 1340.76,1118.67 1342.86,1119.69 1344.96,1120.67 1347.06,1121.62 1349.17,1122.53 1351.27,1123.42 1353.37,1124.28 1355.47,1125.11 1357.57,1125.91 1359.67,1126.68 1361.77,1127.43 1363.87,1128.15 1365.97,1128.84 1368.07,1129.51 1370.17,1130.15 1372.27,1130.78 1374.38,1131.37 1376.48,1131.95 1378.58,1132.51 1380.68,1133.04 1382.78,1133.55 1384.88,1134.05 1386.98,1134.52 1389.08,1134.98 1391.18,1135.42 1393.28,1135.84 1395.38,1136.25 1397.48,1136.64 1399.59,1137.01 1401.69,1137.37 1403.79,1137.72 1405.89,1138.05 1407.99,1138.37 1410.09,1138.68 1412.19,1138.97 1414.29,1139.25 1416.39,1139.52 1418.49,1139.78 1420.59,1140.03 1422.69,1140.27 1424.80,1140.50 1426.90,1140.72 1429.00,1140.93 1431.10,1141.13 1433.20,1141.32 1435.30,1141.51" fill="none" stroke="#000000" stroke-width="2.7" stroke-linejoin="round"/>
<text x="64.8" y="890.5" font-size="33.5" text-anchor="start">C</text>
<text x="17" y="1063" font-size="23.9" text-anchor="middle" font-weight="bold" transform="rotate(-90 17 1063)">NR2A</text>
<text x="46" y="1063.5" font-size="23.9" text-anchor="middle" font-weight="bold" transform="rotate(-90 46 1063.5)">(CGP070667 protected)</text>
<text x="1538" y="488" font-size="23.9" text-anchor="start">D-Serine</text>
<line x1="1527.2" y1="494.3" x2="1644.2" y2="494.3" stroke="#000" stroke-width="1.6" stroke-linecap="butt"/>
<line x1="1521.8" y1="515.6" x2="1554.1" y2="515.6" stroke="#000000" stroke-width="2.9" stroke-linecap="butt"/>
<circle cx="1538" cy="515.6" r="5.85" fill="#000000" stroke="#000" stroke-width="2.8"/>
<text x="1572" y="523.9" font-size="23.9" text-anchor="start">EC100</text>
<line x1="1521.8" y1="556.4" x2="1554.1" y2="556.4" stroke="#3a309a" stroke-width="2.9" stroke-linecap="butt"/>
<circle cx="1538" cy="556.4" r="5.85" fill="#4a54ba" stroke="#000" stroke-width="2.8"/>
<text x="1572" y="564.7" font-size="23.9" text-anchor="start">EC60</text>
<line x1="1523.2" y1="592.1" x2="1555.5" y2="592.1" stroke="#38ae29" stroke-width="2.9" stroke-linecap="butt"/>
<circle cx="1539.4" cy="592.1" r="5.85" fill="#2bb920" stroke="#000" stroke-width="2.8"/>
<text x="1573.4" y="600.4" font-size="23.9" text-anchor="start">EC40</text>
<line x1="1521.8" y1="630" x2="1554.1" y2="630" stroke="#dc3a2c" stroke-width="2.9" stroke-linecap="butt"/>
<circle cx="1538" cy="630" r="5.85" fill="#e53424" stroke="#000" stroke-width="2.8"/>
<text x="1572" y="638.3" font-size="23.9" text-anchor="start">EC20</text>
<text x="1529.2" y="944.6" font-size="23.9" text-anchor="start">Glutamate</text>
<line x1="1530.2" y1="950.5" x2="1647" y2="950.5" stroke="#000" stroke-width="1.6" stroke-linecap="butt"/>
<line x1="1524.7" y1="971.8" x2="1556.7" y2="971.8" stroke="#000000" stroke-width="2.9" stroke-linecap="butt"/>
<circle cx="1540.9" cy="971.8" r="5.85" fill="#000000" stroke="#000" stroke-width="2.8"/>
<text x="1575" y="980.1" font-size="23.9" text-anchor="start">EC100</text>
<line x1="1524.7" y1="1012.6" x2="1556.7" y2="1012.6" stroke="#3a309a" stroke-width="2.9" stroke-linecap="butt"/>
<circle cx="1540.9" cy="1012.6" r="5.85" fill="#4a54ba" stroke="#000" stroke-width="2.8"/>
<text x="1575" y="1020.9" font-size="23.9" text-anchor="start">EC60</text>
<line x1="1526.2" y1="1048.6" x2="1558.2" y2="1048.6" stroke="#38ae29" stroke-width="2.9" stroke-linecap="butt"/>
<circle cx="1542.4" cy="1048.6" r="5.85" fill="#2bb920" stroke="#000" stroke-width="2.8"/>
<text x="1576.5" y="1056.9" font-size="23.9" text-anchor="start">EC40</text>
<line x1="1524.7" y1="1086.3" x2="1556.7" y2="1086.3" stroke="#dc3a2c" stroke-width="2.9" stroke-linecap="butt"/>
<circle cx="1540.9" cy="1086.3" r="5.85" fill="#e53424" stroke="#000" stroke-width="2.8"/>
<text x="1575" y="1094.6" font-size="23.9" text-anchor="start">EC20</text>
</svg>
</body></html>
